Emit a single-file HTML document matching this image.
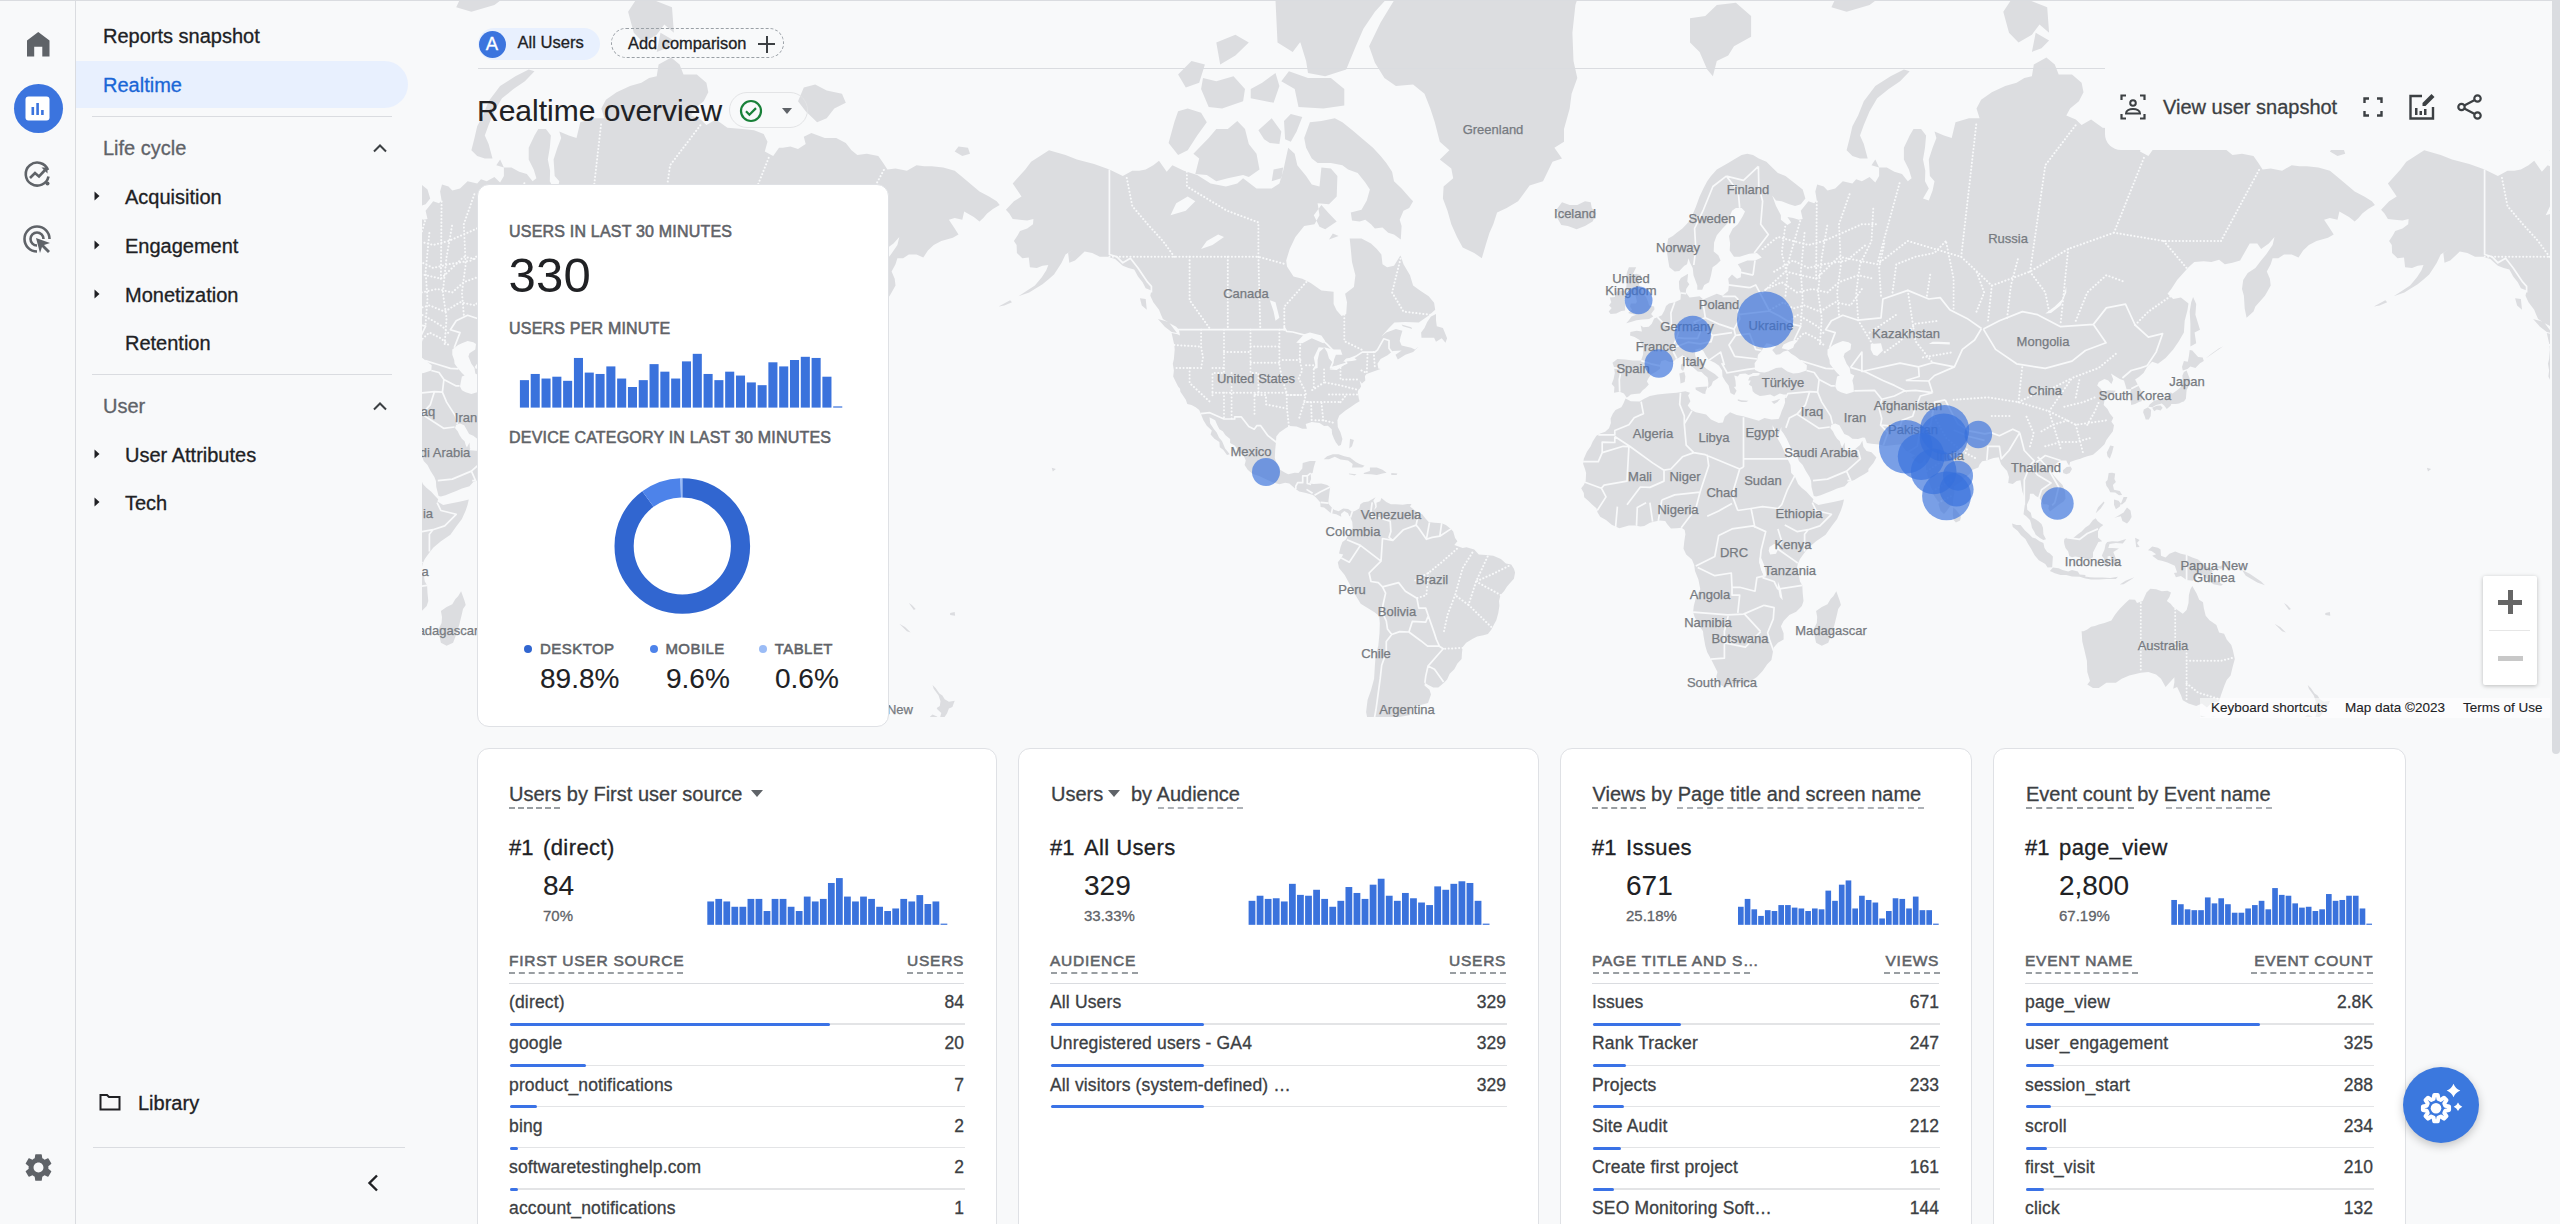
<!DOCTYPE html>
<html><head><meta charset="utf-8"><title>Realtime overview</title>
<style>
html,body{margin:0;padding:0;width:2560px;height:1224px;overflow:hidden;background:#f8f9fa;font-family:"Liberation Sans",sans-serif;}
.t{position:absolute;line-height:1;white-space:nowrap;-webkit-text-stroke:0.3px currentColor;}
.r{position:absolute;box-sizing:border-box;}
.ic{position:absolute;overflow:visible;}
.card{position:absolute;box-sizing:border-box;background:#fff;border:1px solid #dfe1e5;border-radius:12px;}
</style></head><body>
<div class="r" style="left:75.0px;top:0.0px;width:1.0px;height:1224.0px;background:#dadce0;"></div>
<svg class="ic" style="left:26.5px;top:32.3px;width:22.5px;height:24.5px" viewBox="0 0 22.5 24.5"><path fill="#5f6368" d="M11.25 0L22.5 8.6V24.5H15.3V14.8H7.2V24.5H0V8.6z"/></svg>
<div class="r" style="left:13.5px;top:83.5px;width:49px;height:49px;border-radius:50%;background:#3b74de"></div>
<svg class="ic" style="left:25px;top:96px;width:26px;height:26px" viewBox="0 0 26 26"><rect x="0.5" y="0.5" width="24" height="24" rx="3" fill="#fff"/><rect x="6.5" y="11" width="2.6" height="8" fill="#3b74de"/><rect x="11.3" y="7" width="2.6" height="12" fill="#3b74de"/><rect x="16.1" y="14" width="2.6" height="5" fill="#3b74de"/></svg>
<svg class="ic" style="left:23px;top:159px;width:30px;height:30px" viewBox="0 0 30 30"><path fill="none" stroke="#5f6368" stroke-width="2.6" d="M25.5 17.5A11.5 11.5 0 1 1 25 11"/><path fill="none" stroke="#5f6368" stroke-width="2.6" d="M7 19l5-5 4 3.5 6.5-7"/><path fill="#5f6368" d="M18.5 8.5h6v6z"/><circle cx="24.5" cy="24.5" r="2" fill="#5f6368"/></svg>
<svg class="ic" style="left:23px;top:225px;width:30px;height:30px" viewBox="0 0 30 30"><path fill="none" stroke="#5f6368" stroke-width="2.6" d="M14 26.5A12.5 12.5 0 1 1 26.5 14"/><path fill="none" stroke="#5f6368" stroke-width="2.6" d="M14 20.5A6.5 6.5 0 1 1 20.5 14"/><path fill="#5f6368" d="M13 13l14 5-6 2 6 6-2 2-6-6-2 6z"/></svg>
<svg class="ic" style="left:21.5px;top:1150.5px;width:33px;height:33px" viewBox="0 0 24 24"><path fill="#5f6368" d="M19.14 12.94c.04-.3.06-.61.06-.94 0-.32-.02-.64-.07-.94l2.03-1.58a.49.49 0 0 0 .12-.61l-1.92-3.32a.488.488 0 0 0-.59-.22l-2.39.96c-.5-.38-1.03-.7-1.62-.94l-.36-2.54a.484.484 0 0 0-.48-.41h-3.84c-.24 0-.43.17-.47.41l-.36 2.54c-.59.24-1.13.57-1.62.94l-2.39-.96c-.22-.08-.47 0-.59.22L2.74 8.87c-.12.21-.08.47.12.61l2.03 1.58c-.05.3-.09.63-.09.94s.02.64.07.94l-2.03 1.58a.49.49 0 0 0-.12.61l1.92 3.32c.12.22.37.29.59.22l2.39-.96c.5.38 1.03.7 1.62.94l.36 2.54c.05.24.24.41.48.41h3.84c.24 0 .44-.17.47-.41l.36-2.54c.59-.24 1.13-.56 1.62-.94l2.39.96c.22.08.47 0 .59-.22l1.92-3.32c.12-.22.07-.47-.12-.61l-2.01-1.58zM12 15.6c-1.98 0-3.6-1.62-3.6-3.6s1.62-3.6 3.6-3.6 3.6 1.62 3.6 3.6-1.62 3.6-3.6 3.6z"/></svg>
<div class="t" style="left:103.0px;top:25.6px;font-size:20px;color:#202124;">Reports snapshot</div>
<div class="r" style="left:76px;top:61px;width:332px;height:47px;border-radius:0 24px 24px 0;background:#e8f0fe"></div>
<div class="t" style="left:103.0px;top:75.1px;font-size:20px;color:#1a66d6;">Realtime</div>
<div class="r" style="left:92.0px;top:116.0px;width:300.0px;height:1.0px;background:#dadce0;"></div>
<div class="t" style="left:103.0px;top:138.1px;font-size:20px;color:#5f6368;">Life cycle</div>
<svg class="ic" style="left:371px;top:142px;width:18px;height:12px" viewBox="0 0 18 12"><path fill="none" stroke="#3c4043" stroke-width="2" d="M3 9.5l6-6 6 6"/></svg>
<svg class="ic" style="left:93px;top:190px;width:8px;height:12px" viewBox="0 0 8 12"><path fill="#202124" d="M1.5 1.5l5 4.5-5 4.5z"/></svg>
<div class="t" style="left:125.0px;top:187.1px;font-size:20px;color:#202124;">Acquisition</div>
<svg class="ic" style="left:93px;top:239px;width:8px;height:12px" viewBox="0 0 8 12"><path fill="#202124" d="M1.5 1.5l5 4.5-5 4.5z"/></svg>
<div class="t" style="left:125.0px;top:236.1px;font-size:20px;color:#202124;">Engagement</div>
<svg class="ic" style="left:93px;top:288px;width:8px;height:12px" viewBox="0 0 8 12"><path fill="#202124" d="M1.5 1.5l5 4.5-5 4.5z"/></svg>
<div class="t" style="left:125.0px;top:285.1px;font-size:20px;color:#202124;">Monetization</div>
<div class="t" style="left:125.0px;top:333.1px;font-size:20px;color:#202124;">Retention</div>
<div class="r" style="left:92.0px;top:374.0px;width:300.0px;height:1.0px;background:#dadce0;"></div>
<div class="t" style="left:103.0px;top:396.1px;font-size:20px;color:#5f6368;">User</div>
<svg class="ic" style="left:371px;top:400px;width:18px;height:12px" viewBox="0 0 18 12"><path fill="none" stroke="#3c4043" stroke-width="2" d="M3 9.5l6-6 6 6"/></svg>
<svg class="ic" style="left:93px;top:448px;width:8px;height:12px" viewBox="0 0 8 12"><path fill="#202124" d="M1.5 1.5l5 4.5-5 4.5z"/></svg>
<div class="t" style="left:125.0px;top:445.1px;font-size:20px;color:#202124;">User Attributes</div>
<svg class="ic" style="left:93px;top:496px;width:8px;height:12px" viewBox="0 0 8 12"><path fill="#202124" d="M1.5 1.5l5 4.5-5 4.5z"/></svg>
<div class="t" style="left:125.0px;top:493.1px;font-size:20px;color:#202124;">Tech</div>
<svg class="ic" style="left:99px;top:1093px;width:22px;height:18px" viewBox="0 0 22 18"><path fill="none" stroke="#202124" stroke-width="2" d="M1.5 2h6.5l2 2h10.5v12.5h-19z"/></svg>
<div class="t" style="left:138.0px;top:1093.1px;font-size:20px;color:#202124;">Library</div>
<div class="r" style="left:93.0px;top:1147.0px;width:312.0px;height:1.0px;background:#dadce0;"></div>
<svg class="ic" style="left:364px;top:1173px;width:18px;height:20px" viewBox="0 0 18 20"><path fill="none" stroke="#202124" stroke-width="2.4" d="M13 2.5l-7.5 7.5 7.5 7.5"/></svg>
<svg class="ic" style="left:422px;top:0px;width:2128px;height:717px;overflow:hidden" viewBox="0 0 2128 717">
<rect width="2128" height="717" fill="#f8f9fa"/>
<path fill="#dcdde0" d="M583.9 209.8L591.9 201.3L599.5 196.5L590.7 183.4L603.3 169.6L609.1 161.8L627.0 150.2L643.5 154.9L654.9 159.5L672.1 164.1L687.4 169.6L700.8 176.1L710.3 170.7L717.2 170.7L723.7 169.6L731.3 165.2L737.0 160.7L744.7 171.8L750.4 165.2L761.9 170.7L775.2 175.0L788.6 183.4L803.9 186.5L815.3 183.4L821.1 178.2L834.5 188.5L849.7 188.5L857.4 183.4L861.2 170.7L866.2 147.8L872.7 153.7L875.3 165.2L884.1 176.1L889.8 184.5L897.5 186.5L899.4 167.4L908.9 168.5L915.4 176.1L914.7 196.5L907.0 204.2L895.6 203.2L897.5 215.3L892.5 224.2L882.2 225.9L873.4 236.9L867.7 249.0L864.2 260.5L865.0 266.5L871.5 276.6L880.3 278.7L888.7 282.9L899.4 290.4L911.6 291.7L911.6 304.1L914.7 310.4L919.6 316.0L924.2 314.1L925.0 302.2L923.1 293.7L931.9 287.0L933.4 275.2L930.0 262.0L928.8 249.0L927.7 238.5L939.5 238.5L949.0 243.4L954.8 249.0L959.4 254.5L960.5 264.3L965.1 267.2L972.0 265.8L978.5 255.2L981.5 264.3L988.0 275.2L991.1 285.6L998.7 291.0L1006.7 296.3L1012.1 302.8L1013.2 309.8L1007.1 315.3L996.8 322.6L983.4 322.0L972.4 322.6L967.0 327.9L959.4 336.6L964.3 332.6L973.9 329.1L980.4 330.8L978.5 337.1L977.7 341.1L979.6 345.5L989.2 347.7L993.0 349.4L996.8 346.6L991.1 352.1L983.4 354.8L975.8 359.6L973.5 354.8L979.6 350.5L970.8 351.0L965.5 355.3L958.6 359.0L955.5 363.8L956.3 368.4L958.6 368.9L952.9 371.0L944.5 374.0L942.9 376.0L943.3 380.5L939.9 383.5L937.6 380.5L939.1 386.4L935.7 391.7L936.8 398.4L937.6 401.2L933.8 403.5L928.4 407.2L923.5 410.4L917.3 415.4L915.4 420.3L915.8 427.0L918.5 432.6L920.4 439.1L918.9 445.1L916.6 445.9L913.9 442.5L912.0 438.7L910.1 433.9L909.7 429.2L905.9 425.7L902.1 426.1L897.5 423.0L889.8 422.1L883.7 423.9L884.9 428.7L880.3 428.7L874.6 426.5L867.7 426.1L863.9 427.9L857.4 432.6L854.3 436.5L853.9 442.9L853.2 449.7L852.8 458.0L854.3 462.9L858.1 469.8L863.1 472.7L866.2 474.3L872.7 472.7L876.5 473.1L880.3 468.6L880.7 462.9L887.9 460.9L893.7 460.9L891.8 467.0L890.6 473.1L888.7 473.5L889.1 479.1L887.2 483.5L891.8 483.9L899.4 483.5L905.1 485.1L908.2 487.0L907.4 492.9L906.6 499.6L906.3 503.5L909.7 507.4L912.0 509.7L916.6 511.3L921.2 508.5L926.1 508.9L930.3 512.0L931.1 515.1L927.3 516.3L926.1 513.2L922.3 510.9L918.9 514.0L919.3 516.7L914.3 514.3L908.9 513.2L906.6 511.3L902.1 507.4L898.6 507.0L898.2 502.3L893.7 497.3L891.0 494.9L884.1 492.9L877.2 491.4L873.0 488.6L867.3 483.5L863.1 482.7L857.4 484.3L850.5 482.3L844.4 479.5L837.1 475.9L830.6 473.9L825.7 469.8L822.6 465.0L823.8 460.5L821.5 455.5L817.3 451.8L812.7 445.5L808.1 442.9L808.1 439.1L803.5 435.2L800.8 431.3L797.4 429.2L795.1 424.8L793.2 420.3L787.5 417.2L788.2 423.4L792.0 429.2L794.7 432.6L797.0 437.4L800.1 441.2L803.1 448.4L805.8 451.8L807.7 454.3L805.0 455.1L801.2 449.7L797.8 447.2L797.4 442.1L792.4 438.7L788.6 434.4L789.8 430.5L784.8 425.7L781.4 420.3L778.7 413.6L777.2 410.0L773.7 407.2L769.5 404.9L765.3 404.0L763.8 399.8L760.3 394.6L758.4 391.7L758.0 388.8L756.1 386.4L753.1 380.5L751.2 376.5L751.9 370.5L750.8 363.8L751.9 359.0L752.7 349.4L752.3 345.0L749.6 333.1L755.4 334.3L758.0 335.4L756.9 329.7L754.2 326.7L748.5 323.8L740.9 319.0L739.0 314.7L737.0 309.8L731.3 302.2L728.3 295.7L729.4 290.4L723.7 288.3L720.6 282.2L716.0 276.6L712.2 269.4L706.5 268.0L700.8 265.8L693.1 259.0L685.5 256.8L677.8 256.8L670.2 252.9L662.6 251.4L658.7 255.2L653.0 260.5L647.3 262.8L646.1 252.9L651.9 249.0L643.5 254.5L639.6 262.8L635.8 268.7L632.0 274.5L626.3 279.4L620.5 284.3L614.0 288.3L607.2 292.4L601.4 294.4L596.5 296.3L605.2 290.4L612.9 285.6L619.8 277.3L624.3 270.2L626.3 265.0L620.5 265.8L614.8 268.0L607.9 267.2L606.8 257.5L600.3 258.3L594.9 252.9L594.6 245.0L591.9 241.0L595.7 235.2L598.0 231.0L605.2 228.5L611.0 224.2L611.4 218.9L605.2 220.6L597.6 219.8L590.7 218.9L587.3 213.5L583.9 209.8ZM1959.1 209.8L1967.1 201.3L1974.7 196.5L1965.9 183.4L1978.5 169.6L1984.3 161.8L2002.2 150.2L2018.7 154.9L2030.1 159.5L2047.3 164.1L2062.6 169.6L2075.9 176.1L2085.5 170.7L2092.4 170.7L2098.9 169.6L2106.5 165.2L2112.2 160.7L2119.9 171.8L2125.6 165.2L2137.1 170.7L2150.4 175.0L2163.8 183.4L2179.1 186.5L2190.6 183.4L2196.3 178.2L2209.7 188.5L2224.9 188.5L2232.6 183.4L2236.4 170.7L2241.4 147.8L2247.9 153.7L2250.5 165.2L2259.3 176.1L2265.0 184.5L2272.7 186.5L2274.6 167.4L2284.1 168.5L2290.6 176.1L2289.9 196.5L2282.2 204.2L2270.8 203.2L2272.7 215.3L2267.7 224.2L2257.4 225.9L2248.6 236.9L2242.9 249.0L2239.4 260.5L2240.2 266.5L2246.7 276.6L2255.5 278.7L2263.9 282.9L2274.6 290.4L2286.8 291.7L2286.8 304.1L2289.9 310.4L2294.8 316.0L2299.4 314.1L2300.2 302.2L2298.3 293.7L2307.1 287.0L2308.6 275.2L2305.2 262.0L2304.0 249.0L2302.9 238.5L2314.7 238.5L2324.2 243.4L2330.0 249.0L2334.6 254.5L2335.7 264.3L2340.3 267.2L2347.2 265.8L2353.7 255.2L2356.7 264.3L2363.2 275.2L2366.3 285.6L2373.9 291.0L2381.9 296.3L2387.3 302.8L2388.4 309.8L2382.3 315.3L2372.0 322.6L2358.6 322.0L2347.6 322.6L2342.2 327.9L2334.6 336.6L2339.5 332.6L2349.1 329.1L2355.6 330.8L2353.7 337.1L2352.9 341.1L2354.8 345.5L2364.4 347.7L2368.2 349.4L2372.0 346.6L2366.3 352.1L2358.6 354.8L2351.0 359.6L2348.7 354.8L2354.8 350.5L2346.0 351.0L2340.7 355.3L2333.8 359.0L2330.7 363.8L2331.5 368.4L2333.8 368.9L2328.1 371.0L2319.7 374.0L2318.1 376.0L2318.5 380.5L2315.1 383.5L2312.8 380.5L2314.3 386.4L2310.9 391.7L2312.0 398.4L2312.8 401.2L2309.0 403.5L2303.6 407.2L2298.7 410.4L2292.5 415.4L2290.6 420.3L2291.0 427.0L2293.7 432.6L2295.6 439.1L2294.1 445.1L2291.8 445.9L2289.1 442.5L2287.2 438.7L2285.3 433.9L2284.9 429.2L2281.1 425.7L2277.3 426.1L2272.7 423.0L2265.0 422.1L2258.9 423.9L2260.1 428.7L2255.5 428.7L2249.8 426.5L2242.9 426.1L2239.1 427.9L2232.6 432.6L2229.5 436.5L2229.1 442.9L2228.4 449.7L2228.0 458.0L2229.5 462.9L2233.3 469.8L2238.3 472.7L2241.4 474.3L2247.9 472.7L2251.7 473.1L2255.5 468.6L2255.9 462.9L2263.1 460.9L2268.9 460.9L2266.9 467.0L2265.8 473.1L2263.9 473.5L2264.3 479.1L2262.4 483.5L2266.9 483.9L2274.6 483.5L2280.3 485.1L2283.4 487.0L2282.6 492.9L2281.8 499.6L2281.5 503.5L2284.9 507.4L2287.2 509.7L2291.8 511.3L2296.4 508.5L2301.3 508.9L2305.5 512.0L2306.3 515.1L2302.5 516.3L2301.3 513.2L2297.5 510.9L2294.1 514.0L2294.5 516.7L2289.5 514.3L2284.1 513.2L2281.8 511.3L2277.3 507.4L2273.8 507.0L2273.4 502.3L2268.9 497.3L2266.2 494.9L2259.3 492.9L2252.4 491.4L2248.2 488.6L2242.5 483.5L2238.3 482.7L2232.6 484.3L2225.7 482.3L2219.6 479.5L2212.3 475.9L2205.8 473.9L2200.9 469.8L2197.8 465.0L2199.0 460.5L2196.7 455.5L2192.5 451.8L2187.9 445.5L2183.3 442.9L2183.3 439.1L2178.7 435.2L2176.0 431.3L2172.6 429.2L2170.3 424.8L2168.4 420.3L2162.7 417.2L2163.4 423.4L2167.2 429.2L2169.9 432.6L2172.2 437.4L2175.3 441.2L2178.3 448.4L2181.0 451.8L2182.9 454.3L2180.2 455.1L2176.4 449.7L2173.0 447.2L2172.6 442.1L2167.6 438.7L2163.8 434.4L2165.0 430.5L2160.0 425.7L2156.6 420.3L2153.9 413.6L2152.4 410.0L2148.9 407.2L2144.7 404.9L2140.5 404.0L2139.0 399.8L2135.5 394.6L2133.6 391.7L2133.2 388.8L2131.3 386.4L2128.3 380.5L2126.4 376.5L2127.1 370.5L2126.0 363.8L2127.1 359.0L2127.9 349.4L2127.5 345.0L2124.8 333.1L2130.6 334.3L2133.2 335.4L2132.1 329.7L2129.4 326.7L2123.7 323.8L2116.1 319.0L2114.2 314.7L2112.2 309.8L2106.5 302.2L2103.5 295.7L2104.6 290.4L2098.9 288.3L2095.8 282.2L2091.2 276.6L2087.4 269.4L2081.7 268.0L2075.9 265.8L2068.3 259.0L2060.7 256.8L2053.0 256.8L2045.4 252.9L2037.8 251.4L2033.9 255.2L2028.2 260.5L2022.5 262.8L2021.3 252.9L2027.1 249.0L2018.7 254.5L2014.8 262.8L2011.0 268.7L2007.2 274.5L2001.5 279.4L1995.7 284.3L1989.2 288.3L1982.4 292.4L1976.6 294.4L1971.7 296.3L1980.5 290.4L1988.1 285.6L1995.0 277.3L1999.5 270.2L2001.5 265.0L1995.7 265.8L1990.0 268.0L1983.1 267.2L1982.0 257.5L1975.5 258.3L1970.1 252.9L1969.8 245.0L1967.1 241.0L1970.9 235.2L1973.2 231.0L1980.5 228.5L1986.2 224.2L1986.6 218.9L1980.5 220.6L1972.8 219.8L1965.9 218.9L1962.5 213.5L1959.1 209.8ZM978.8 239.4L972.0 234.4L966.2 232.7L960.5 227.6L952.9 228.5L949.0 224.2L943.3 219.8L937.6 221.5L930.0 220.6L928.8 212.6L939.5 209.8L944.8 200.4L947.9 189.5L943.3 182.4L935.7 172.9L926.1 169.6L920.4 165.2L908.9 162.9L895.6 162.9L889.8 158.4L884.1 147.8L882.2 137.9L887.9 122.3L899.4 121.0L912.8 118.3L920.4 122.3L931.9 131.6L939.5 137.9L951.0 147.8L958.6 156.1L964.3 162.9L970.1 171.8L972.0 181.3L979.6 188.5L988.4 198.4L991.1 201.3L987.2 207.9L981.5 210.7L977.7 219.8L979.6 225.9L978.8 239.4ZM773.3 173.9L784.8 175.0L794.3 181.3L805.8 178.2L821.1 175.0L826.8 177.1L837.5 169.6L834.5 153.7L826.8 144.1L823.0 129.0L815.3 121.0L805.8 129.0L794.3 129.0L786.7 137.9L777.2 147.8L771.4 153.7L777.2 158.4L773.3 173.9ZM746.6 142.9L752.3 122.3L756.1 111.3L765.7 108.5L779.1 112.7L784.8 122.3L775.2 135.4L765.7 150.2L756.1 154.9L746.6 142.9ZM2121.8 142.9L2127.5 122.3L2131.3 111.3L2140.9 108.5L2154.3 112.7L2160.0 122.3L2150.4 135.4L2140.9 150.2L2131.3 154.9L2121.8 142.9ZM847.8 142.9L857.4 144.1L859.3 131.6L849.7 118.3L836.4 130.3L842.1 139.2L847.8 142.9ZM863.1 139.2L868.8 141.7L874.6 131.6L880.3 116.9L868.8 114.1L862.0 121.0L863.1 139.2ZM779.1 89.1L786.7 107.0L800.1 108.5L821.1 101.2L823.0 89.1L811.5 76.3L794.3 81.2L781.0 77.9L779.1 89.1ZM828.7 98.3L851.6 102.7L857.4 86.0L853.5 73.0L840.2 82.8L828.7 89.1L828.7 98.3ZM922.3 105.6L901.3 108.5L876.5 107.0L872.7 89.1L859.3 81.2L866.9 71.3L886.0 77.9L908.9 77.9L922.3 89.1L922.3 105.6ZM886.0 73.0L903.2 76.3L924.2 69.6L933.8 46.3L941.4 28.7L952.9 11.8L973.9 -11.4L989.2 -37.3L958.6 -66.6L912.8 -66.6L874.6 -37.3L859.3 0.5L863.1 22.5L878.4 42.5L884.1 60.9L886.0 73.0ZM855.5 42.5L870.7 51.9L882.2 36.7L876.5 11.8L865.0 -18.8L853.5 0.5L855.5 42.5ZM798.2 64.4L813.4 55.6L826.8 42.5L813.4 34.7L794.3 42.5L798.2 64.4ZM763.8 87.5L777.2 82.8L782.9 64.4L769.5 60.9L756.1 74.6L763.8 87.5ZM2139.0 87.5L2152.4 82.8L2158.1 64.4L2144.7 60.9L2131.3 74.6L2139.0 87.5ZM897.5 226.8L903.2 229.3L914.7 221.5L907.0 213.5L899.4 205.1L891.8 215.3L897.5 226.8ZM907.0 239.4L916.6 236.1L910.8 233.6L907.0 239.4ZM849.7 181.3L859.3 178.2L861.2 167.4L851.6 169.6L849.7 181.3ZM999.5 337.7L1006.3 337.7L1012.1 337.7L1014.0 341.7L1019.7 338.3L1023.5 342.8L1025.1 338.3L1022.8 332.6L1020.9 327.9L1014.8 326.2L1014.0 320.2L1014.0 314.1L1009.0 316.6L1005.2 322.0L1002.5 327.9L999.1 332.6L999.5 337.7ZM979.6 324.4L989.2 327.3L990.3 329.1L980.8 326.2L979.6 324.4ZM735.9 319.0L746.6 322.0L755.0 333.1L749.6 332.0L742.8 326.7L735.9 319.0ZM2111.1 319.0L2121.8 322.0L2130.2 333.1L2124.8 332.0L2118.0 326.7L2111.1 319.0ZM717.9 298.3L723.7 299.0L724.8 309.8L719.8 305.4L717.9 298.3ZM2093.1 298.3L2098.9 299.0L2100.0 309.8L2095.1 305.4L2093.1 298.3ZM1059.8 258.3L1052.2 252.9L1040.7 247.4L1035.0 236.9L1029.3 224.2L1025.5 210.7L1020.9 198.4L1021.6 186.5L1031.2 178.2L1029.3 168.5L1017.8 159.5L1027.4 150.2L1017.8 141.7L1012.8 122.3L1008.3 108.5L1002.5 93.7L991.1 84.4L973.9 86.0L962.4 77.9L952.9 62.7L947.1 46.3L958.6 22.5L972.0 0.5L993.0 -31.8L1015.9 -45.7L1054.1 -60.4L1092.3 -82.8L1130.5 -72.9L1149.6 -42.8L1161.1 -18.8L1153.4 5.1L1150.4 32.8L1151.5 60.9L1155.3 77.9L1149.6 93.7L1147.7 108.5L1142.0 129.0L1142.0 141.7L1132.4 147.8L1140.0 158.4L1130.5 161.8L1121.0 181.3L1107.6 185.5L1096.1 201.3L1084.7 207.9L1075.1 212.6L1071.3 224.2L1067.5 232.7L1063.7 245.0L1059.8 258.3ZM1139.3 225.0L1145.8 225.9L1154.6 229.3L1163.0 225.9L1170.6 221.5L1174.4 213.5L1169.8 207.9L1168.7 202.3L1163.0 201.3L1155.3 205.1L1147.7 205.1L1140.0 202.3L1133.6 210.7L1140.8 215.3L1134.3 216.2L1139.3 225.0ZM930.3 512.0L933.8 510.5L937.2 508.5L938.4 504.3L941.4 502.3L946.4 501.6L950.2 499.2L953.6 497.3L951.3 500.8L952.5 503.5L953.3 506.6L952.1 510.1L954.8 507.0L954.4 502.7L958.2 501.2L959.4 498.0L964.3 501.9L968.9 504.3L973.9 504.3L980.8 504.7L985.3 503.9L989.5 503.9L988.0 506.6L993.0 510.5L995.3 512.4L1000.2 514.3L1003.3 518.2L1006.7 522.0L1012.5 522.8L1019.7 523.2L1023.9 525.1L1028.9 528.9L1031.2 531.6L1033.1 538.1L1035.4 541.2L1032.3 545.0L1040.7 548.1L1044.5 547.3L1052.2 549.6L1056.8 554.6L1063.7 554.9L1071.3 555.7L1078.9 559.1L1083.9 563.4L1089.2 564.5L1091.9 568.7L1093.1 572.6L1091.9 578.7L1089.2 581.8L1085.0 586.5L1082.0 591.2L1078.5 595.1L1077.0 601.0L1077.4 605.7L1076.3 612.9L1074.3 620.2L1072.1 624.2L1069.4 629.5L1065.9 634.1L1061.4 635.3L1055.2 636.6L1050.3 639.1L1044.2 642.8L1040.7 647.1L1040.0 652.6L1039.6 659.1L1035.4 663.5L1032.3 669.2L1027.7 673.7L1025.1 679.6L1022.0 682.8L1016.3 687.4L1011.3 687.4L1006.3 685.1L1002.9 682.8L1002.5 685.6L1007.5 689.8L1009.0 694.5L1006.0 703.1L998.7 705.1L989.2 707.0L988.0 715.0L977.7 717.0L982.7 722.1L979.6 724.7L976.9 735.2L970.1 741.7L967.8 746.1L974.6 752.9L968.2 760.3L962.8 768.0L962.0 775.9L965.1 780.2L960.5 782.1L954.8 787.8L943.3 781.5L937.6 757.4L941.4 746.1L939.5 735.2L946.0 722.1L944.1 712.0L945.6 699.7L949.0 690.2L952.1 678.7L952.9 665.2L953.6 656.5L956.3 645.8L957.5 633.2L957.8 623.0L957.1 616.1L952.9 612.5L945.2 607.7L938.7 603.8L934.9 597.4L931.1 590.8L927.3 583.4L922.7 574.9L917.0 568.0L915.8 562.2L919.3 558.0L921.2 554.6L917.0 553.4L918.5 547.3L920.4 541.9L924.2 539.3L925.7 535.4L929.2 531.6L930.7 527.8L930.3 522.0L928.4 517.4L930.3 512.0ZM963.9 782.1L972.0 796.3L964.3 799.6L952.9 794.3L941.4 783.4L956.7 784.0L963.9 782.1ZM945.2 721.1L942.6 725.2L945.2 728.9L945.2 721.1ZM-171.7 398.4L-166.4 401.2L-157.6 401.6L-153.0 398.8L-147.3 396.0L-139.7 394.6L-130.1 393.6L-120.5 392.7L-111.8 391.2L-107.2 392.7L-109.1 395.5L-106.8 401.2L-109.5 405.4L-106.0 410.0L-101.5 412.2L-91.1 414.5L-86.2 419.4L-78.5 423.0L-74.3 422.6L-72.4 416.8L-67.1 412.2L-60.6 415.0L-54.1 416.3L-48.0 418.1L-38.4 420.8L-32.7 418.1L-25.8 419.4L-18.6 419.0L-15.9 427.0L-18.6 434.4L-21.2 431.3L-24.7 425.2L-24.3 430.0L-20.8 436.5L-16.3 444.2L-13.2 450.9L-9.8 458.8L-6.7 465.0L-6.0 473.1L-2.1 477.1L0.9 483.9L4.4 487.8L9.3 491.8L13.1 496.1L16.2 499.2L15.4 501.6L21.2 505.1L28.4 503.5L36.1 501.9L41.8 500.8L46.8 499.6L45.6 504.7L43.7 510.5L39.9 519.0L34.2 526.6L28.4 534.7L18.9 541.2L11.2 547.7L6.7 553.4L2.8 559.1L0.5 564.1L-0.6 569.9L1.7 574.9L2.8 581.5L5.1 585.3L5.5 593.1L6.3 601.0L4.7 606.1L-1.0 611.7L-7.9 614.9L-13.6 621.0L-16.3 626.3L-13.6 633.2L-13.6 639.5L-19.3 642.8L-23.5 647.5L-24.7 654.3L-25.8 660.0L-30.0 664.3L-34.6 671.0L-40.3 676.9L-46.1 681.0L-51.8 683.3L-59.4 682.8L-65.2 683.7L-72.8 687.0L-77.4 684.6L-79.3 681.0L-80.8 676.4L-79.7 671.9L-83.1 665.2L-86.2 659.1L-90.0 652.2L-91.9 645.8L-93.8 635.3L-94.2 631.2L-98.4 625.0L-102.6 616.9L-104.1 612.1L-103.4 606.1L-101.1 597.1L-96.9 589.2L-98.8 579.5L-102.2 571.0L-103.0 564.9L-105.3 559.5L-111.0 554.6L-113.7 548.8L-112.9 541.2L-111.8 534.3L-112.5 530.1L-115.6 527.8L-120.5 528.2L-126.3 528.6L-130.1 524.0L-132.0 520.9L-137.7 520.5L-143.5 521.7L-147.3 522.8L-153.0 525.9L-156.8 526.6L-162.6 525.5L-168.3 525.5L-177.9 528.2L-185.5 524.7L-191.2 520.1L-197.0 516.7L-199.6 512.4L-200.8 508.2L-205.4 504.3L-208.4 501.2L-213.0 497.3L-213.4 492.9L-216.0 488.2L-213.4 485.1L-211.5 481.1L-211.1 473.1L-212.2 469.0L-214.1 463.7L-213.4 458.8L-210.3 451.8L-206.5 446.3L-204.6 441.7L-200.8 435.7L-197.0 433.5L-192.0 431.8L-188.2 428.3L-186.3 423.0L-186.6 418.6L-184.3 413.6L-181.7 410.0L-175.9 407.2L-174.0 404.0L-171.7 398.4ZM1203.5 398.4L1208.8 401.2L1217.6 401.6L1222.2 398.8L1227.9 396.0L1235.5 394.6L1245.1 393.6L1254.7 392.7L1263.4 391.2L1268.0 392.7L1266.1 395.5L1268.4 401.2L1265.7 405.4L1269.2 410.0L1273.8 412.2L1284.1 414.5L1289.0 419.4L1296.7 423.0L1300.9 422.6L1302.8 416.8L1308.1 412.2L1314.6 415.0L1321.1 416.3L1327.2 418.1L1336.8 420.8L1342.5 418.1L1349.4 419.4L1356.6 419.0L1359.3 427.0L1356.6 434.4L1354.0 431.3L1350.5 425.2L1350.9 430.0L1354.4 436.5L1358.9 444.2L1362.0 450.9L1365.4 458.8L1368.5 465.0L1369.2 473.1L1373.1 477.1L1376.1 483.9L1379.6 487.8L1384.5 491.8L1388.3 496.1L1391.4 499.2L1390.6 501.6L1396.4 505.1L1403.6 503.5L1411.3 501.9L1417.0 500.8L1422.0 499.6L1420.8 504.7L1418.9 510.5L1415.1 519.0L1409.4 526.6L1403.6 534.7L1394.1 541.2L1386.4 547.7L1381.9 553.4L1378.0 559.1L1375.7 564.1L1374.6 569.9L1376.9 574.9L1378.0 581.5L1380.3 585.3L1380.7 593.1L1381.5 601.0L1379.9 606.1L1374.2 611.7L1367.3 614.9L1361.6 621.0L1358.9 626.3L1361.6 633.2L1361.6 639.5L1355.9 642.8L1351.7 647.5L1350.5 654.3L1349.4 660.0L1345.2 664.3L1340.6 671.0L1334.9 676.9L1329.1 681.0L1323.4 683.3L1315.8 682.8L1310.0 683.7L1302.4 687.0L1297.8 684.6L1295.9 681.0L1294.4 676.4L1295.5 671.9L1292.1 665.2L1289.0 659.1L1285.2 652.2L1283.3 645.8L1281.4 635.3L1281.0 631.2L1276.8 625.0L1272.6 616.9L1271.1 612.1L1271.8 606.1L1274.1 597.1L1278.3 589.2L1276.4 579.5L1273.0 571.0L1272.2 564.9L1269.9 559.5L1264.2 554.6L1261.5 548.8L1262.3 541.2L1263.4 534.3L1262.7 530.1L1259.6 527.8L1254.7 528.2L1248.9 528.6L1245.1 524.0L1243.2 520.9L1237.5 520.5L1231.7 521.7L1227.9 522.8L1222.2 525.9L1218.4 526.6L1212.6 525.5L1206.9 525.5L1197.3 528.2L1189.7 524.7L1184.0 520.1L1178.2 516.7L1175.6 512.4L1174.4 508.2L1169.8 504.3L1166.8 501.2L1162.2 497.3L1161.8 492.9L1159.2 488.2L1161.8 485.1L1163.7 481.1L1164.1 473.1L1163.0 469.0L1161.1 463.7L1161.8 458.8L1164.9 451.8L1168.7 446.3L1170.6 441.7L1174.4 435.7L1178.2 433.5L1183.2 431.8L1187.0 428.3L1188.9 423.0L1188.6 418.6L1190.9 413.6L1193.5 410.0L1199.3 407.2L1201.2 404.0L1203.5 398.4ZM39.1 591.2L42.6 601.0L43.7 604.9L41.0 608.9L39.9 614.1L37.2 625.0L34.2 634.5L31.1 642.8L24.6 645.8L18.9 642.8L17.7 637.4L16.6 629.1L19.6 623.0L20.0 616.9L18.9 610.9L24.6 606.9L30.3 604.2L33.4 599.0L36.1 596.3L39.1 591.2ZM1414.3 591.2L1417.8 601.0L1418.9 604.9L1416.2 608.9L1415.1 614.1L1412.4 625.0L1409.4 634.5L1406.3 642.8L1399.8 645.8L1394.1 642.8L1392.9 637.4L1391.8 629.1L1394.8 623.0L1395.2 616.9L1394.1 610.9L1399.8 606.9L1405.5 604.2L1408.6 599.0L1411.3 596.3L1414.3 591.2ZM-170.6 397.4L-173.3 393.6L-177.5 391.7L-183.2 392.7L-182.8 386.9L-185.5 384.0L-183.6 379.0L-182.4 373.0L-183.2 366.9L-184.7 362.7L-179.8 359.0L-172.1 359.6L-164.5 360.6L-156.1 360.6L-154.2 354.8L-153.8 347.7L-157.6 340.0L-162.6 337.1L-167.2 335.4L-166.8 332.0L-160.7 330.8L-155.3 331.4L-156.5 325.6L-153.8 327.3L-148.4 326.7L-145.4 323.8L-143.1 318.4L-139.7 317.2L-135.4 315.3L-132.8 310.4L-131.2 306.0L-128.2 303.5L-122.5 302.2L-116.7 299.6L-116.3 293.0L-117.9 289.0L-118.3 281.5L-116.3 278.0L-109.1 273.7L-109.9 281.5L-107.9 284.3L-111.0 289.0L-111.4 292.4L-107.6 297.6L-103.4 297.0L-97.6 296.3L-93.8 299.6L-88.1 297.0L-80.4 293.7L-74.7 295.7L-69.0 291.0L-68.2 284.3L-69.0 278.7L-65.2 274.5L-60.2 278.7L-56.4 277.3L-56.0 269.4L-59.4 264.3L-49.9 260.5L-42.2 260.5L-35.4 257.5L-40.3 252.9L-48.0 253.7L-57.5 256.8L-63.2 256.8L-67.5 250.6L-67.1 243.4L-68.2 236.1L-64.4 228.5L-59.4 224.2L-54.5 216.2L-52.2 211.6L-55.6 207.9L-61.3 207.9L-65.2 210.7L-67.8 217.1L-69.0 222.4L-74.7 228.5L-80.4 235.2L-83.1 242.6L-83.5 251.4L-78.9 255.2L-76.6 260.5L-80.4 264.3L-84.6 267.2L-86.2 275.2L-88.1 282.2L-93.0 284.9L-95.0 289.7L-99.9 289.7L-99.9 285.6L-101.5 281.5L-103.7 275.2L-104.5 268.0L-107.2 262.8L-108.7 258.3L-110.2 264.3L-112.9 265.8L-117.9 270.9L-122.5 271.6L-127.8 267.2L-129.0 260.5L-130.1 252.9L-130.1 245.0L-129.0 238.5L-124.4 236.1L-120.5 232.7L-114.8 228.5L-109.1 222.4L-105.3 216.2L-101.5 207.0L-97.6 196.5L-93.8 188.5L-90.0 181.3L-86.2 176.1L-80.4 169.6L-74.7 166.3L-69.0 162.9L-63.2 159.5L-55.6 154.9L-49.9 153.7L-44.2 154.9L-38.4 158.4L-30.8 161.8L-25.0 167.4L-19.3 172.9L-11.7 176.1L-2.1 183.4L5.5 189.5L8.2 198.4L3.6 204.2L-2.1 206.1L-7.9 204.2L-15.5 201.3L-21.2 200.4L-25.0 195.5L-21.2 206.1L-16.3 215.3L-16.3 219.8L-9.8 225.0L-6.0 222.4L-9.8 217.1L-4.0 218.0L1.7 219.8L5.5 218.9L3.6 210.7L11.2 201.3L17.0 203.2L19.6 200.4L18.1 191.5L20.0 184.5L26.5 186.5L30.3 190.5L38.0 188.5L45.6 181.3L55.2 183.4L59.0 179.3L64.7 181.3L72.4 177.1L78.1 182.4L81.9 176.1L81.9 167.4L89.5 167.4L97.2 171.8L104.8 173.9L110.6 181.3L114.4 178.2L111.7 169.6L106.7 159.5L106.7 147.8L112.5 135.4L116.3 129.0L123.9 129.0L128.9 135.4L127.8 147.8L125.8 159.5L128.1 170.7L127.8 181.3L131.6 188.5L125.8 198.4L131.6 200.4L135.4 190.5L137.3 181.3L132.7 176.1L131.6 159.5L135.4 147.8L139.2 137.9L137.3 131.6L146.8 135.4L154.5 137.9L158.3 122.3L171.7 118.3L182.4 118.3L179.3 108.5L183.9 99.7L194.6 92.2L208.0 86.0L219.4 82.8L227.1 77.9L234.7 76.3L236.6 64.4L249.2 57.4L257.6 64.4L261.5 74.6L274.8 74.6L284.4 82.8L286.3 92.2L281.7 101.2L272.9 108.5L269.1 115.5L278.6 119.6L284.4 125.0L293.9 119.6L305.4 127.7L320.7 129.0L332.1 130.3L341.7 134.1L345.5 141.7L342.8 151.4L351.2 156.1L357.0 147.8L360.8 147.8L368.4 146.6L376.0 149.0L383.7 144.1L381.8 136.7L389.4 132.9L402.8 137.9L414.2 137.9L423.8 142.9L429.5 150.2L435.3 154.9L444.8 153.7L456.3 156.1L461.2 162.9L465.4 169.6L473.5 168.5L484.9 170.7L494.5 165.2L502.1 166.3L509.7 166.3L521.2 167.4L532.7 170.7L540.3 177.1L548.0 183.4L557.5 191.5L567.0 196.5L574.7 201.3L577.7 205.1L570.9 208.9L565.1 213.5L561.3 218.0L557.5 221.5L551.8 217.1L542.2 211.6L540.3 219.8L532.7 218.0L526.9 219.8L532.7 228.5L536.5 234.4L530.8 237.7L519.3 241.0L511.7 245.0L505.9 250.6L501.3 257.5L494.5 254.5L486.8 254.5L481.1 258.3L475.4 258.3L473.5 264.3L469.6 271.6L472.7 278.7L473.5 285.6L469.6 292.4L467.7 295.7L462.0 302.2L458.2 306.6L456.3 311.6L449.4 317.8L447.5 308.5L446.7 295.7L444.8 289.0L446.0 280.1L450.5 273.0L458.2 268.0L463.9 260.5L468.9 254.5L475.4 245.0L477.3 236.9L471.5 243.4L463.9 249.0L460.1 243.4L452.5 243.4L442.9 260.5L435.3 262.8L427.6 264.3L421.9 259.8L414.2 262.0L406.6 261.3L397.1 262.0L391.3 267.2L387.5 271.6L379.9 280.1L374.1 289.0L370.3 293.7L376.0 299.0L383.7 297.6L391.3 303.5L390.2 310.4L387.5 320.8L386.7 332.6L381.8 341.1L376.0 349.4L368.4 358.0L360.8 363.8L355.0 361.7L350.1 366.4L346.3 373.0L341.7 377.0L337.9 379.5L340.5 384.4L344.3 391.2L345.5 397.4L344.3 401.2L341.7 402.1L337.9 404.0L334.0 404.9L333.3 399.8L334.8 395.1L332.9 392.7L334.0 389.3L329.4 389.3L328.3 385.4L326.8 380.5L322.6 379.0L316.8 375.5L313.8 373.5L316.1 379.5L314.2 384.0L311.1 380.5L307.3 379.0L301.6 382.0L300.0 385.4L303.5 388.8L305.4 391.7L311.1 390.3L318.7 390.8L316.1 393.6L311.1 396.5L307.3 400.2L306.5 404.9L310.3 409.0L312.6 413.6L316.1 417.7L314.2 421.7L316.8 425.2L315.7 431.3L312.3 435.7L309.2 440.0L307.3 444.2L303.5 448.0L299.6 451.4L295.8 454.7L290.1 456.3L286.3 457.6L283.2 458.8L278.6 460.1L272.9 462.1L272.1 465.8L270.2 462.9L269.1 460.5L263.4 460.5L259.5 462.9L257.6 465.8L255.0 469.8L254.6 473.1L257.6 476.7L261.5 481.1L265.3 485.1L267.9 491.8L268.3 498.8L266.4 501.6L261.5 504.7L257.6 507.8L252.7 511.6L251.1 508.5L251.9 505.4L249.6 504.3L246.2 504.3L244.3 500.8L242.3 498.0L238.5 496.1L236.2 493.7L232.8 493.7L232.4 498.8L229.7 504.7L230.1 509.7L233.6 512.8L234.7 517.4L237.8 519.0L241.2 521.3L244.3 524.0L245.8 527.8L246.2 534.3L248.8 539.3L246.2 540.0L242.7 538.1L238.5 534.7L237.0 531.6L234.7 527.8L233.9 523.6L232.8 520.1L229.0 516.3L226.3 514.3L227.1 508.5L227.8 503.5L227.1 496.9L225.2 491.8L224.0 485.1L223.2 480.3L219.4 481.1L215.6 483.9L211.0 483.1L211.8 477.1L209.9 471.1L208.0 469.0L204.1 464.6L203.0 461.7L201.5 457.2L196.5 458.0L192.7 459.2L189.6 460.5L185.0 461.3L182.4 464.6L181.2 467.4L175.5 469.8L172.4 473.9L165.6 479.1L164.8 481.1L160.2 483.9L156.8 486.2L157.2 492.9L156.0 498.8L155.6 505.4L153.3 505.8L149.5 510.9L146.8 514.0L143.4 510.9L141.9 506.6L140.4 500.8L136.9 495.7L135.4 491.0L132.7 484.3L131.2 479.1L129.7 473.1L128.9 469.0L128.9 462.9L128.1 458.0L125.1 462.5L122.0 463.7L118.2 460.9L114.4 457.6L118.2 455.1L116.3 454.7L112.5 452.6L108.6 450.5L106.0 447.2L104.8 444.2L97.2 445.1L87.6 445.9L81.9 444.6L74.3 443.8L69.7 442.9L67.8 437.8L65.5 437.4L60.9 439.1L55.2 438.7L51.3 435.7L47.1 433.9L44.9 430.0L42.2 425.2L38.0 423.4L34.2 424.8L33.0 427.9L35.7 431.3L37.6 435.2L39.9 438.7L42.6 441.2L43.7 445.1L44.9 447.6L47.5 442.5L47.9 448.4L51.3 449.7L57.1 449.7L62.8 445.1L65.1 440.8L66.2 446.7L69.3 450.9L74.3 452.2L78.1 456.3L79.2 457.6L76.2 462.9L73.9 465.8L71.2 469.0L71.2 471.5L67.0 474.3L62.0 477.1L57.1 479.9L51.3 481.9L47.5 486.2L39.9 488.6L34.2 491.0L28.4 493.3L23.5 495.3L18.9 496.5L16.6 496.1L15.8 492.9L14.3 487.0L13.9 481.1L12.4 477.1L8.6 471.1L5.5 465.0L1.7 460.9L0.2 456.8L-2.1 451.4L-6.0 448.4L-7.9 444.2L-10.5 438.7L-13.6 433.5L-15.9 430.5L-15.9 427.0L-18.6 419.0L-17.0 415.4L-15.5 410.9L-13.6 406.7L-12.1 402.6L-12.4 398.4L-10.9 394.6L-13.6 394.6L-17.4 393.6L-23.1 396.5L-27.0 394.6L-32.7 395.5L-37.3 396.0L-42.2 393.6L-44.5 391.2L-45.3 386.4L-48.4 384.4L-46.4 380.5L-49.1 380.5L-47.6 377.0L-44.2 376.0L-38.4 375.5L-38.4 373.0L-42.2 373.0L-48.7 375.0L-51.8 373.5L-57.5 374.0L-59.4 376.5L-62.9 375.5L-61.7 381.0L-61.3 386.4L-63.2 386.9L-60.6 390.8L-62.9 395.1L-66.7 393.1L-67.8 388.8L-68.6 385.4L-71.7 381.5L-74.7 376.5L-75.1 370.5L-78.1 365.8L-82.4 362.7L-88.1 360.1L-91.1 355.9L-93.8 351.0L-96.9 348.3L-101.8 349.4L-102.2 354.2L-101.5 357.4L-97.2 360.1L-95.0 365.3L-91.1 368.4L-88.1 370.5L-82.4 374.0L-78.5 377.5L-80.4 379.0L-84.3 381.5L-85.8 385.4L-89.2 388.3L-88.8 383.5L-89.6 377.5L-92.7 375.0L-95.7 372.0L-99.5 371.5L-103.4 367.9L-107.2 364.8L-109.1 361.1L-110.6 357.4L-114.8 355.3L-118.6 358.0L-121.3 359.0L-124.4 362.2L-128.2 361.7L-132.0 360.1L-135.8 361.1L-137.4 365.3L-137.0 368.4L-140.8 371.5L-146.1 374.5L-149.2 379.0L-150.3 381.5L-148.4 384.4L-151.9 388.3L-154.5 390.3L-157.2 393.6L-162.6 394.1L-166.4 394.6L-169.4 396.9L-170.6 397.4ZM1204.6 397.4L1201.9 393.6L1197.7 391.7L1192.0 392.7L1192.4 386.9L1189.7 384.0L1191.6 379.0L1192.8 373.0L1192.0 366.9L1190.5 362.7L1195.4 359.0L1203.1 359.6L1210.7 360.6L1219.1 360.6L1221.0 354.8L1221.4 347.7L1217.6 340.0L1212.6 337.1L1208.0 335.4L1208.4 332.0L1214.5 330.8L1219.9 331.4L1218.7 325.6L1221.4 327.3L1226.8 326.7L1229.8 323.8L1232.1 318.4L1235.5 317.2L1239.8 315.3L1242.4 310.4L1244.0 306.0L1247.0 303.5L1252.7 302.2L1258.5 299.6L1258.9 293.0L1257.3 289.0L1256.9 281.5L1258.9 278.0L1266.1 273.7L1265.3 281.5L1267.3 284.3L1264.2 289.0L1263.8 292.4L1267.6 297.6L1271.8 297.0L1277.6 296.3L1281.4 299.6L1287.1 297.0L1294.8 293.7L1300.5 295.7L1306.2 291.0L1307.0 284.3L1306.2 278.7L1310.0 274.5L1315.0 278.7L1318.8 277.3L1319.2 269.4L1315.8 264.3L1325.3 260.5L1333.0 260.5L1339.8 257.5L1334.9 252.9L1327.2 253.7L1317.7 256.8L1312.0 256.8L1307.7 250.6L1308.1 243.4L1307.0 236.1L1310.8 228.5L1315.8 224.2L1320.7 216.2L1323.0 211.6L1319.6 207.9L1313.9 207.9L1310.0 210.7L1307.4 217.1L1306.2 222.4L1300.5 228.5L1294.8 235.2L1292.1 242.6L1291.7 251.4L1296.3 255.2L1298.6 260.5L1294.8 264.3L1290.6 267.2L1289.0 275.2L1287.1 282.2L1282.2 284.9L1280.2 289.7L1275.3 289.7L1275.3 285.6L1273.8 281.5L1271.5 275.2L1270.7 268.0L1268.0 262.8L1266.5 258.3L1265.0 264.3L1262.3 265.8L1257.3 270.9L1252.7 271.6L1247.4 267.2L1246.2 260.5L1245.1 252.9L1245.1 245.0L1246.2 238.5L1250.8 236.1L1254.7 232.7L1260.4 228.5L1266.1 222.4L1269.9 216.2L1273.8 207.0L1277.6 196.5L1281.4 188.5L1285.2 181.3L1289.0 176.1L1294.8 169.6L1300.5 166.3L1306.2 162.9L1312.0 159.5L1319.6 154.9L1325.3 153.7L1331.0 154.9L1336.8 158.4L1344.4 161.8L1350.2 167.4L1355.9 172.9L1363.5 176.1L1373.1 183.4L1380.7 189.5L1383.4 198.4L1378.8 204.2L1373.1 206.1L1367.3 204.2L1359.7 201.3L1354.0 200.4L1350.2 195.5L1354.0 206.1L1358.9 215.3L1358.9 219.8L1365.4 225.0L1369.2 222.4L1365.4 217.1L1371.2 218.0L1376.9 219.8L1380.7 218.9L1378.8 210.7L1386.4 201.3L1392.2 203.2L1394.8 200.4L1393.3 191.5L1395.2 184.5L1401.7 186.5L1405.5 190.5L1413.2 188.5L1420.8 181.3L1430.4 183.4L1434.2 179.3L1439.9 181.3L1447.6 177.1L1453.3 182.4L1457.1 176.1L1457.1 167.4L1464.8 167.4L1472.4 171.8L1480.0 173.9L1485.8 181.3L1489.6 178.2L1486.9 169.6L1481.9 159.5L1481.9 147.8L1487.7 135.4L1491.5 129.0L1499.1 129.0L1504.1 135.4L1503.0 147.8L1501.0 159.5L1503.3 170.7L1503.0 181.3L1506.8 188.5L1501.0 198.4L1506.8 200.4L1510.6 190.5L1512.5 181.3L1507.9 176.1L1506.8 159.5L1510.6 147.8L1514.4 137.9L1512.5 131.6L1522.0 135.4L1529.7 137.9L1533.5 122.3L1546.9 118.3L1557.6 118.3L1554.5 108.5L1559.1 99.7L1569.8 92.2L1583.2 86.0L1594.6 82.8L1602.3 77.9L1609.9 76.3L1611.8 64.4L1624.4 57.4L1632.8 64.4L1636.7 74.6L1650.0 74.6L1659.6 82.8L1661.5 92.2L1656.9 101.2L1648.1 108.5L1644.3 115.5L1653.8 119.6L1659.6 125.0L1669.1 119.6L1680.6 127.7L1695.9 129.0L1707.3 130.3L1716.9 134.1L1720.7 141.7L1718.0 151.4L1726.4 156.1L1732.2 147.8L1736.0 147.8L1743.6 146.6L1751.2 149.0L1758.9 144.1L1757.0 136.7L1764.6 132.9L1778.0 137.9L1789.4 137.9L1799.0 142.9L1804.7 150.2L1810.5 154.9L1820.0 153.7L1831.5 156.1L1836.4 162.9L1840.6 169.6L1848.7 168.5L1860.1 170.7L1869.7 165.2L1877.3 166.3L1884.9 166.3L1896.4 167.4L1907.9 170.7L1915.5 177.1L1923.2 183.4L1932.7 191.5L1942.2 196.5L1949.9 201.3L1952.9 205.1L1946.1 208.9L1940.3 213.5L1936.5 218.0L1932.7 221.5L1927.0 217.1L1917.4 211.6L1915.5 219.8L1907.9 218.0L1902.1 219.8L1907.9 228.5L1911.7 234.4L1906.0 237.7L1894.5 241.0L1886.9 245.0L1881.1 250.6L1876.5 257.5L1869.7 254.5L1862.0 254.5L1856.3 258.3L1850.6 258.3L1848.7 264.3L1844.8 271.6L1847.9 278.7L1848.7 285.6L1844.8 292.4L1842.9 295.7L1837.2 302.2L1833.4 306.6L1831.5 311.6L1824.6 317.8L1822.7 308.5L1821.9 295.7L1820.0 289.0L1821.2 280.1L1825.7 273.0L1833.4 268.0L1839.1 260.5L1844.1 254.5L1850.6 245.0L1852.5 236.9L1846.8 243.4L1839.1 249.0L1835.3 243.4L1827.7 243.4L1818.1 260.5L1810.5 262.8L1802.8 264.3L1797.1 259.8L1789.4 262.0L1781.8 261.3L1772.3 262.0L1766.5 267.2L1762.7 271.6L1755.1 280.1L1749.3 289.0L1745.5 293.7L1751.2 299.0L1758.9 297.6L1766.5 303.5L1765.4 310.4L1762.7 320.8L1761.9 332.6L1757.0 341.1L1751.2 349.4L1743.6 358.0L1736.0 363.8L1730.2 361.7L1725.3 366.4L1721.5 373.0L1716.9 377.0L1713.1 379.5L1715.7 384.4L1719.5 391.2L1720.7 397.4L1719.5 401.2L1716.9 402.1L1713.1 404.0L1709.2 404.9L1708.5 399.8L1710.0 395.1L1708.1 392.7L1709.2 389.3L1704.6 389.3L1703.5 385.4L1702.0 380.5L1697.8 379.0L1692.0 375.5L1689.0 373.5L1691.3 379.5L1689.4 384.0L1686.3 380.5L1682.5 379.0L1676.8 382.0L1675.2 385.4L1678.7 388.8L1680.6 391.7L1686.3 390.3L1693.9 390.8L1691.3 393.6L1686.3 396.5L1682.5 400.2L1681.7 404.9L1685.5 409.0L1687.8 413.6L1691.3 417.7L1689.4 421.7L1692.0 425.2L1690.9 431.3L1687.5 435.7L1684.4 440.0L1682.5 444.2L1678.7 448.0L1674.8 451.4L1671.0 454.7L1665.3 456.3L1661.5 457.6L1658.4 458.8L1653.8 460.1L1648.1 462.1L1647.3 465.8L1645.4 462.9L1644.3 460.5L1638.6 460.5L1634.7 462.9L1632.8 465.8L1630.2 469.8L1629.8 473.1L1632.8 476.7L1636.7 481.1L1640.5 485.1L1643.1 491.8L1643.5 498.8L1641.6 501.6L1636.7 504.7L1632.8 507.8L1627.9 511.6L1626.3 508.5L1627.1 505.4L1624.8 504.3L1621.4 504.3L1619.5 500.8L1617.5 498.0L1613.7 496.1L1611.4 493.7L1608.0 493.7L1607.6 498.8L1604.9 504.7L1605.3 509.7L1608.8 512.8L1609.9 517.4L1613.0 519.0L1616.4 521.3L1619.5 524.0L1621.0 527.8L1621.4 534.3L1624.0 539.3L1621.4 540.0L1617.9 538.1L1613.7 534.7L1612.2 531.6L1609.9 527.8L1609.1 523.6L1608.0 520.1L1604.2 516.3L1601.5 514.3L1602.3 508.5L1603.0 503.5L1602.3 496.9L1600.4 491.8L1599.2 485.1L1598.5 480.3L1594.6 481.1L1590.8 483.9L1586.2 483.1L1587.0 477.1L1585.1 471.1L1583.2 469.0L1579.3 464.6L1578.2 461.7L1576.7 457.2L1571.7 458.0L1567.9 459.2L1564.8 460.5L1560.2 461.3L1557.6 464.6L1556.4 467.4L1550.7 469.8L1547.6 473.9L1540.8 479.1L1540.0 481.1L1535.4 483.9L1532.0 486.2L1532.4 492.9L1531.2 498.8L1530.8 505.4L1528.5 505.8L1524.7 510.9L1522.0 514.0L1518.6 510.9L1517.1 506.6L1515.6 500.8L1512.1 495.7L1510.6 491.0L1507.9 484.3L1506.4 479.1L1504.9 473.1L1504.1 469.0L1504.1 462.9L1503.3 458.0L1500.3 462.5L1497.2 463.7L1493.4 460.9L1489.6 457.6L1493.4 455.1L1491.5 454.7L1487.7 452.6L1483.8 450.5L1481.2 447.2L1480.0 444.2L1472.4 445.1L1462.8 445.9L1457.1 444.6L1449.5 443.8L1444.9 442.9L1443.0 437.8L1440.7 437.4L1436.1 439.1L1430.4 438.7L1426.5 435.7L1422.3 433.9L1420.1 430.0L1417.4 425.2L1413.2 423.4L1409.4 424.8L1408.2 427.9L1410.9 431.3L1412.8 435.2L1415.1 438.7L1417.8 441.2L1418.9 445.1L1420.1 447.6L1422.7 442.5L1423.1 448.4L1426.5 449.7L1432.3 449.7L1438.0 445.1L1440.3 440.8L1441.4 446.7L1444.5 450.9L1449.5 452.2L1453.3 456.3L1454.4 457.6L1451.4 462.9L1449.1 465.8L1446.4 469.0L1446.4 471.5L1442.2 474.3L1437.2 477.1L1432.3 479.9L1426.5 481.9L1422.7 486.2L1415.1 488.6L1409.4 491.0L1403.6 493.3L1398.7 495.3L1394.1 496.5L1391.8 496.1L1391.0 492.9L1389.5 487.0L1389.1 481.1L1387.6 477.1L1383.8 471.1L1380.7 465.0L1376.9 460.9L1375.4 456.8L1373.1 451.4L1369.2 448.4L1367.3 444.2L1364.7 438.7L1361.6 433.5L1359.3 430.5L1359.3 427.0L1356.6 419.0L1358.2 415.4L1359.7 410.9L1361.6 406.7L1363.1 402.6L1362.8 398.4L1364.3 394.6L1361.6 394.6L1357.8 393.6L1352.1 396.5L1348.2 394.6L1342.5 395.5L1337.9 396.0L1333.0 393.6L1330.7 391.2L1329.9 386.4L1326.8 384.4L1328.8 380.5L1326.1 380.5L1327.6 377.0L1331.0 376.0L1336.8 375.5L1336.8 373.0L1333.0 373.0L1326.5 375.0L1323.4 373.5L1317.7 374.0L1315.8 376.5L1312.3 375.5L1313.5 381.0L1313.9 386.4L1312.0 386.9L1314.6 390.8L1312.3 395.1L1308.5 393.1L1307.4 388.8L1306.6 385.4L1303.5 381.5L1300.5 376.5L1300.1 370.5L1297.1 365.8L1292.8 362.7L1287.1 360.1L1284.1 355.9L1281.4 351.0L1278.3 348.3L1273.4 349.4L1273.0 354.2L1273.8 357.4L1278.0 360.1L1280.2 365.3L1284.1 368.4L1287.1 370.5L1292.8 374.0L1296.7 377.5L1294.8 379.0L1290.9 381.5L1289.4 385.4L1286.0 388.3L1286.4 383.5L1285.6 377.5L1282.5 375.0L1279.5 372.0L1275.7 371.5L1271.8 367.9L1268.0 364.8L1266.1 361.1L1264.6 357.4L1260.4 355.3L1256.6 358.0L1253.9 359.0L1250.8 362.2L1247.0 361.7L1243.2 360.1L1239.4 361.1L1237.8 365.3L1238.2 368.4L1234.4 371.5L1229.1 374.5L1226.0 379.0L1224.9 381.5L1226.8 384.4L1223.3 388.3L1220.7 390.3L1218.0 393.6L1212.6 394.1L1208.8 394.6L1205.8 396.9L1204.6 397.4ZM1204.2 323.2L1208.8 322.0L1214.5 320.2L1220.3 319.6L1227.1 319.0L1231.3 316.6L1229.1 314.1L1232.5 309.2L1232.1 306.6L1227.1 305.4L1226.0 301.5L1224.1 297.0L1221.0 293.7L1219.9 288.3L1217.2 285.6L1216.5 282.2L1218.4 278.7L1219.1 275.2L1214.5 273.7L1210.7 274.5L1214.2 267.2L1208.8 267.2L1206.9 267.2L1205.0 272.3L1203.8 278.7L1204.6 283.6L1204.2 289.7L1206.9 292.4L1207.7 294.4L1212.6 293.0L1213.8 297.0L1214.9 301.5L1213.8 303.5L1208.8 303.5L1208.0 306.6L1210.0 309.8L1206.1 312.9L1210.0 314.1L1214.2 314.7L1209.6 316.6L1206.9 320.2L1204.2 323.2ZM1203.1 310.4L1203.1 304.1L1202.3 299.6L1204.6 295.0L1202.3 291.0L1198.1 290.4L1194.3 291.7L1192.8 297.0L1187.8 297.6L1189.3 302.2L1187.0 305.4L1189.7 307.9L1186.7 311.6L1188.6 314.1L1194.3 313.5L1199.3 311.0L1203.1 310.4ZM1261.9 362.7L1262.7 366.9L1261.1 371.0L1258.9 368.9L1258.9 364.8L1261.9 362.7ZM1262.3 372.0L1263.4 376.5L1262.7 382.0L1258.5 383.5L1258.1 378.5L1257.3 373.5L1262.3 372.0ZM1273.4 387.4L1277.6 386.9L1285.6 386.4L1283.7 391.2L1283.3 394.1L1280.6 393.6L1273.8 389.8L1273.4 387.4ZM1315.8 399.3L1319.6 400.2L1326.5 400.7L1324.2 402.1L1319.6 402.1L1315.8 400.7L1315.8 399.3ZM1349.4 401.6L1354.0 400.2L1358.2 398.8L1355.5 402.1L1352.1 404.0L1349.4 401.6ZM156.0 507.4L158.7 509.7L161.7 513.6L163.7 517.0L162.9 520.5L158.7 522.4L156.4 520.1L155.6 514.3L156.0 507.4ZM1531.2 507.4L1533.9 509.7L1536.9 513.6L1538.9 517.0L1538.1 520.5L1533.9 522.4L1531.6 520.1L1530.8 514.3L1531.2 507.4ZM265.7 470.2L269.5 467.0L273.3 466.6L274.8 469.0L272.5 473.1L269.1 474.3L266.0 473.1L265.7 470.2ZM1640.9 470.2L1644.7 467.0L1648.5 466.6L1650.0 469.0L1647.7 473.1L1644.3 474.3L1641.2 473.1L1640.9 470.2ZM313.0 445.5L316.5 446.3L314.9 452.6L312.6 458.8L310.3 456.3L309.6 452.6L311.9 448.0L313.0 445.5ZM1688.2 445.5L1691.7 446.3L1690.1 452.6L1687.8 458.8L1685.5 456.3L1684.8 452.6L1687.1 448.0L1688.2 445.5ZM385.6 370.5L390.2 368.9L393.2 366.4L398.2 367.9L402.8 363.2L406.6 361.1L405.5 357.4L400.9 356.9L395.1 350.5L392.5 349.9L391.7 355.9L390.6 361.7L386.7 361.1L384.8 366.9L385.6 370.5ZM1760.8 370.5L1765.4 368.9L1768.4 366.4L1773.4 367.9L1778.0 363.2L1781.8 361.1L1780.7 357.4L1776.1 356.9L1770.3 350.5L1767.7 349.9L1766.9 355.9L1765.8 361.7L1761.9 361.1L1760.0 366.9L1760.8 370.5ZM389.4 370.5L391.3 375.5L393.2 380.5L391.3 386.4L389.4 390.3L389.0 395.1L388.7 398.8L386.7 401.6L384.8 402.1L381.8 403.5L378.7 404.0L374.1 404.0L373.4 405.8L369.6 409.0L366.9 405.4L364.6 403.5L358.9 404.9L355.0 407.2L351.2 406.7L352.4 404.4L357.0 400.7L362.7 399.3L368.4 399.3L370.3 397.4L373.4 392.2L375.3 393.6L379.9 390.3L383.7 386.9L385.6 382.0L385.2 375.5L386.7 372.0L389.4 370.5ZM1764.6 370.5L1766.5 375.5L1768.4 380.5L1766.5 386.4L1764.6 390.3L1764.2 395.1L1763.9 398.8L1761.9 401.6L1760.0 402.1L1757.0 403.5L1753.9 404.0L1749.3 404.0L1748.6 405.8L1744.8 409.0L1742.1 405.4L1739.8 403.5L1734.1 404.9L1730.2 407.2L1726.4 406.7L1727.6 404.4L1732.2 400.7L1737.9 399.3L1743.6 399.3L1745.5 397.4L1748.6 392.2L1750.5 393.6L1755.1 390.3L1758.9 386.9L1760.8 382.0L1760.4 375.5L1761.9 372.0L1764.6 370.5ZM346.6 409.5L350.8 407.2L353.9 410.0L353.5 415.9L351.6 419.4L348.5 419.4L347.4 415.9L345.9 412.2L346.6 409.5ZM1721.8 409.5L1726.0 407.2L1729.1 410.0L1728.7 415.9L1726.8 419.4L1723.7 419.4L1722.6 415.9L1721.1 412.2L1721.8 409.5ZM357.0 411.3L359.6 409.5L363.4 410.4L365.4 407.7L363.4 405.4L359.6 405.8L355.0 407.7L357.0 411.3ZM1732.2 411.3L1734.8 409.5L1738.6 410.4L1740.6 407.7L1738.6 405.4L1734.8 405.8L1730.2 407.7L1732.2 411.3ZM393.2 346.6L399.0 343.3L397.4 332.6L402.8 329.7L398.2 314.7L399.0 304.1L395.9 297.0L394.0 302.2L392.5 311.6L393.2 323.8L393.2 335.4L393.2 346.6ZM1768.4 346.6L1774.2 343.3L1772.6 332.6L1778.0 329.7L1773.4 314.7L1774.2 304.1L1771.1 297.0L1769.2 302.2L1767.7 311.6L1768.4 323.8L1768.4 335.4L1768.4 346.6ZM408.5 358.5L419.2 351.0L425.7 346.6L421.9 348.3L414.2 353.7L408.5 358.5ZM1783.7 358.5L1794.4 351.0L1800.9 346.6L1797.1 348.3L1789.4 353.7L1783.7 358.5ZM311.5 473.1L314.9 472.7L318.0 473.5L317.2 479.1L318.7 481.9L315.7 485.1L316.8 489.8L322.6 491.0L324.9 494.9L321.8 495.3L318.0 492.6L313.0 492.2L311.5 489.0L309.2 485.8L308.4 481.9L310.3 479.9L311.5 473.1ZM1686.7 473.1L1690.1 472.7L1693.2 473.5L1692.4 479.1L1693.9 481.9L1690.9 485.1L1692.0 489.8L1697.8 491.0L1700.1 494.9L1697.0 495.3L1693.2 492.6L1688.2 492.2L1686.7 489.0L1684.4 485.8L1683.6 481.9L1685.5 479.9L1686.7 473.1ZM316.8 518.2L322.6 514.7L326.4 512.4L329.8 507.4L333.3 510.5L334.4 517.0L332.1 520.9L329.8 523.6L325.2 520.9L323.7 516.3L319.9 517.0L316.8 518.2ZM1692.0 518.2L1697.8 514.7L1701.6 512.4L1705.0 507.4L1708.5 510.5L1709.6 517.0L1707.3 520.9L1705.0 523.6L1700.4 520.9L1698.9 516.3L1695.1 517.0L1692.0 518.2ZM316.8 499.6L321.4 500.8L324.5 504.7L328.3 501.6L330.2 496.9L326.4 496.9L322.6 506.6L318.7 509.3L316.8 504.7L316.8 499.6ZM1692.0 499.6L1696.6 500.8L1699.7 504.7L1703.5 501.6L1705.4 496.9L1701.6 496.9L1697.8 506.6L1693.9 509.3L1692.0 504.7L1692.0 499.6ZM298.5 513.2L303.5 508.5L307.3 502.7L306.5 501.6L300.8 507.4L298.5 513.2ZM1673.7 513.2L1678.7 508.5L1682.5 502.7L1681.7 501.6L1676.0 507.4L1673.7 513.2ZM267.2 538.9L269.9 537.4L274.8 538.9L280.5 534.3L284.4 531.6L288.2 527.4L292.0 525.1L295.8 520.1L298.5 518.2L300.4 520.9L303.5 523.6L306.1 525.1L302.7 527.8L300.8 531.6L300.8 537.4L305.0 541.2L301.2 541.9L299.6 545.0L297.7 548.8L295.8 552.6L295.8 557.2L292.0 559.5L288.2 558.8L282.5 557.2L277.9 556.5L274.8 557.2L272.1 556.1L271.0 551.5L268.3 548.1L267.2 544.2L266.8 541.6L267.2 538.9ZM1642.4 538.9L1645.1 537.4L1650.0 538.9L1655.8 534.3L1659.6 531.6L1663.4 527.4L1667.2 525.1L1671.0 520.1L1673.7 518.2L1675.6 520.9L1678.7 523.6L1681.3 525.1L1677.9 527.8L1676.0 531.6L1676.0 537.4L1680.2 541.2L1676.4 541.9L1674.8 545.0L1672.9 548.8L1671.0 552.6L1671.0 557.2L1667.2 559.5L1663.4 558.8L1657.7 557.2L1653.1 556.5L1650.0 557.2L1647.3 556.1L1646.2 551.5L1643.5 548.1L1642.4 544.2L1642.0 541.6L1642.4 538.9ZM214.8 523.6L219.4 525.1L223.2 525.1L227.8 530.5L232.0 534.3L235.1 537.4L238.5 538.5L242.3 541.2L246.2 543.1L247.3 548.1L250.0 551.9L252.7 553.4L255.7 556.5L255.3 562.2L255.0 567.2L250.4 567.6L248.1 564.1L241.6 560.3L237.4 555.3L233.9 548.8L230.9 543.9L228.2 538.9L223.6 535.1L220.6 530.9L215.6 527.0L214.8 523.6ZM1590.0 523.6L1594.6 525.1L1598.5 525.1L1603.0 530.5L1607.2 534.3L1610.3 537.4L1613.7 538.5L1617.5 541.2L1621.4 543.1L1622.5 548.1L1625.2 551.9L1627.9 553.4L1630.9 556.5L1630.5 562.2L1630.2 567.2L1625.6 567.6L1623.3 564.1L1616.8 560.3L1612.6 555.3L1609.1 548.8L1606.1 543.9L1603.4 538.9L1598.8 535.1L1595.8 530.9L1590.8 527.0L1590.0 523.6ZM252.7 571.0L255.7 567.6L261.5 568.3L265.3 569.9L271.0 571.4L274.8 569.9L280.5 571.4L282.5 574.5L288.2 574.9L288.2 578.4L282.5 576.8L274.8 576.4L269.1 574.9L263.4 574.9L257.6 573.3L253.8 571.4L252.7 571.0ZM1627.9 571.0L1630.9 567.6L1636.7 568.3L1640.5 569.9L1646.2 571.4L1650.0 569.9L1655.8 571.4L1657.7 574.5L1663.4 574.9L1663.4 578.4L1657.7 576.8L1650.0 576.4L1644.3 574.9L1638.6 574.9L1632.8 573.3L1629.0 571.4L1627.9 571.0ZM288.2 576.4L292.8 577.2L297.7 577.6L305.4 577.6L313.0 578.0L320.7 576.8L318.7 579.1L309.2 579.1L301.6 579.5L293.9 579.5L288.2 578.4L288.2 576.4ZM1663.4 576.4L1668.0 577.2L1672.9 577.6L1680.6 577.6L1688.2 578.0L1695.9 576.8L1693.9 579.1L1684.4 579.1L1676.8 579.5L1669.1 579.5L1663.4 578.4L1663.4 576.4ZM322.6 584.6L328.3 580.7L337.1 577.2L334.0 579.5L326.4 584.2L322.6 584.6ZM1697.8 584.6L1703.5 580.7L1712.3 577.2L1709.2 579.5L1701.6 584.2L1697.8 584.6ZM307.3 566.0L306.9 558.4L304.6 555.7L307.3 549.6L308.4 544.2L310.0 541.9L314.9 541.2L320.7 541.6L326.4 539.7L329.1 538.9L325.6 543.5L318.7 543.1L312.3 543.9L311.1 548.1L315.3 548.1L321.8 548.4L316.1 551.9L318.7 558.4L321.4 562.6L318.7 566.0L314.9 562.2L313.0 555.7L310.3 556.5L311.1 566.4L307.3 566.0ZM1682.5 566.0L1682.1 558.4L1679.8 555.7L1682.5 549.6L1683.6 544.2L1685.2 541.9L1690.1 541.2L1695.9 541.6L1701.6 539.7L1704.3 538.9L1700.8 543.5L1693.9 543.1L1687.5 543.9L1686.3 548.1L1690.5 548.1L1697.0 548.4L1691.3 551.9L1693.9 558.4L1696.6 562.6L1693.9 566.0L1690.1 562.2L1688.2 555.7L1685.5 556.5L1686.3 566.4L1682.5 566.0ZM337.9 537.7L342.4 540.0L339.8 543.1L342.4 546.9L339.0 547.3L337.9 537.7ZM1713.1 537.7L1717.6 540.0L1715.0 543.1L1717.6 546.9L1714.2 547.3L1713.1 537.7ZM350.8 550.3L355.0 546.5L360.8 547.7L363.4 549.6L363.8 555.7L368.4 557.6L372.2 553.8L378.0 551.5L383.7 553.8L389.4 554.9L395.1 557.6L400.9 559.5L404.7 563.0L407.8 566.0L414.2 568.7L415.4 571.8L413.1 573.7L418.1 579.5L421.9 582.6L425.7 584.6L423.8 585.7L416.2 584.2L410.4 579.5L405.8 575.3L400.9 574.5L398.2 577.6L395.9 580.7L389.4 579.9L383.7 576.0L378.7 577.2L376.8 573.0L379.9 572.6L377.6 565.7L370.3 562.6L364.6 560.7L360.8 559.9L358.1 558.0L355.0 555.7L358.9 554.2L354.3 551.1L350.8 550.3ZM1726.0 550.3L1730.2 546.5L1736.0 547.7L1738.6 549.6L1739.0 555.7L1743.6 557.6L1747.4 553.8L1753.2 551.5L1758.9 553.8L1764.6 554.9L1770.3 557.6L1776.1 559.5L1779.9 563.0L1783.0 566.0L1789.4 568.7L1790.6 571.8L1788.3 573.7L1793.3 579.5L1797.1 582.6L1800.9 584.6L1799.0 585.7L1791.4 584.2L1785.6 579.5L1781.0 575.3L1776.1 574.5L1773.4 577.6L1771.1 580.7L1764.6 579.9L1758.9 576.0L1753.9 577.2L1752.0 573.0L1755.1 572.6L1752.8 565.7L1745.5 562.6L1739.8 560.7L1736.0 559.9L1733.3 558.0L1730.2 555.7L1734.1 554.2L1729.5 551.1L1726.0 550.3ZM417.3 566.4L423.8 566.0L429.5 561.1L432.6 561.4L429.5 566.0L423.8 569.1L417.3 566.4ZM1792.5 566.4L1799.0 566.0L1804.7 561.1L1807.8 561.4L1804.7 566.0L1799.0 569.1L1792.5 566.4ZM284.4 631.2L285.1 641.6L287.0 649.2L289.7 660.8L290.1 671.9L292.8 681.0L290.1 684.6L295.8 687.9L301.6 687.9L309.2 682.8L318.7 682.8L324.5 678.7L332.1 675.5L343.6 672.8L351.2 671.9L358.9 674.6L363.8 678.7L368.4 687.0L372.2 682.8L377.2 677.3L377.2 682.3L376.0 688.8L379.9 687.0L383.7 694.9L385.6 700.2L391.3 703.6L399.0 706.0L404.7 703.6L409.7 707.5L414.2 703.1L421.9 701.2L423.8 694.9L427.2 685.6L429.5 680.0L433.4 675.5L435.3 667.4L437.6 659.1L435.6 650.0L434.1 644.9L429.5 639.5L426.9 633.7L421.9 632.4L419.2 625.0L412.3 620.2L408.5 615.7L406.6 608.1L405.8 602.2L402.0 599.8L399.4 593.5L395.1 586.1L393.2 589.2L391.7 595.1L391.3 603.0L389.4 610.1L385.6 613.7L381.8 610.9L376.0 606.9L373.4 603.8L369.6 601.0L372.2 597.1L373.8 592.4L370.3 590.8L364.6 591.2L358.9 589.2L353.1 588.8L349.3 592.4L345.5 601.0L339.8 603.0L337.9 599.8L332.1 599.4L328.3 603.0L323.3 608.1L320.7 610.9L317.6 614.9L314.2 620.6L307.3 623.0L301.6 624.6L297.7 625.9L293.9 626.7L290.1 629.5L286.3 631.2L284.4 631.2ZM1659.6 631.2L1660.3 641.6L1662.2 649.2L1664.9 660.8L1665.3 671.9L1668.0 681.0L1665.3 684.6L1671.0 687.9L1676.8 687.9L1684.4 682.8L1693.9 682.8L1699.7 678.7L1707.3 675.5L1718.8 672.8L1726.4 671.9L1734.1 674.6L1739.0 678.7L1743.6 687.0L1747.4 682.8L1752.4 677.3L1752.4 682.3L1751.2 688.8L1755.1 687.0L1758.9 694.9L1760.8 700.2L1766.5 703.6L1774.2 706.0L1779.9 703.6L1784.9 707.5L1789.4 703.1L1797.1 701.2L1799.0 694.9L1802.4 685.6L1804.7 680.0L1808.6 675.5L1810.5 667.4L1812.8 659.1L1810.8 650.0L1809.3 644.9L1804.7 639.5L1802.1 633.7L1797.1 632.4L1794.4 625.0L1787.5 620.2L1783.7 615.7L1781.8 608.1L1781.0 602.2L1777.2 599.8L1774.6 593.5L1770.3 586.1L1768.4 589.2L1766.9 595.1L1766.5 603.0L1764.6 610.1L1760.8 613.7L1757.0 610.9L1751.2 606.9L1748.6 603.8L1744.8 601.0L1747.4 597.1L1749.0 592.4L1745.5 590.8L1739.8 591.2L1734.1 589.2L1728.3 588.8L1724.5 592.4L1720.7 601.0L1715.0 603.0L1713.1 599.8L1707.3 599.4L1703.5 603.0L1698.5 608.1L1695.9 610.9L1692.8 614.9L1689.4 620.6L1682.5 623.0L1676.8 624.6L1672.9 625.9L1669.1 626.7L1665.3 629.5L1661.5 631.2L1659.6 631.2ZM403.2 715.5L410.4 717.5L417.3 716.5L416.2 727.3L411.6 730.4L405.5 723.6L403.2 715.5ZM1778.4 715.5L1785.6 717.5L1792.5 716.5L1791.4 727.3L1786.8 730.4L1780.7 723.6L1778.4 715.5ZM510.5 685.1L513.6 687.9L517.4 693.5L520.4 695.4L522.7 699.2L526.9 701.7L532.7 700.7L530.4 707.0L526.9 708.5L525.0 713.5L520.4 720.1L517.8 718.5L519.3 713.0L515.5 709.5L514.7 708.0L517.8 706.0L518.5 701.2L516.6 695.4L511.7 688.8L510.5 685.1ZM1885.7 685.1L1888.8 687.9L1892.6 693.5L1895.6 695.4L1897.9 699.2L1902.1 701.7L1907.9 700.7L1905.6 707.0L1902.1 708.5L1900.2 713.5L1895.6 720.1L1893.0 718.5L1894.5 713.0L1890.7 709.5L1889.9 708.0L1893.0 706.0L1893.7 701.2L1891.8 695.4L1886.9 688.8L1885.7 685.1ZM510.5 714.5L515.1 716.5L516.6 720.6L512.8 727.3L510.5 731.5L504.8 735.2L502.9 742.8L497.5 746.7L490.6 744.5L486.8 740.6L490.6 735.2L494.5 732.0L502.1 727.3L505.9 721.1L508.2 716.5L510.5 714.5ZM1885.7 714.5L1890.3 716.5L1891.8 720.6L1888.0 727.3L1885.7 731.5L1880.0 735.2L1878.1 742.8L1872.7 746.7L1865.8 744.5L1862.0 740.6L1865.8 735.2L1869.7 732.0L1877.3 727.3L1881.1 721.1L1883.4 716.5L1885.7 714.5ZM901.7 459.2L905.1 456.3L910.8 454.3L916.6 454.3L922.3 456.3L928.0 457.6L933.8 462.1L937.6 464.1L942.6 465.8L940.3 467.4L930.0 467.4L930.7 464.1L926.1 460.5L918.5 459.6L912.8 456.8L907.0 459.2L901.7 459.2ZM941.8 473.1L947.9 471.1L947.9 467.4L954.8 467.4L960.5 469.8L964.7 472.7L960.5 473.5L954.8 475.1L949.0 474.3L941.8 473.9L941.8 473.1ZM926.9 473.5L934.5 474.3L932.6 475.5L926.9 474.3L926.9 473.5ZM969.3 473.1L975.4 473.5L974.6 475.1L969.3 475.1L969.3 473.1ZM928.0 438.7L931.9 440.0L930.0 446.3L927.3 448.4L928.0 438.7ZM1268.0 42.5L1277.6 51.9L1285.2 69.6L1290.9 76.3L1294.8 60.9L1306.2 55.6L1312.0 46.3L1329.1 36.7L1329.1 16.1L1313.9 2.8L1294.8 5.1L1283.3 16.1L1268.0 18.3L1268.0 42.5ZM49.4 150.2L55.2 156.1L62.8 158.4L70.5 158.4L66.6 144.1L62.8 135.4L66.6 125.0L72.4 111.3L80.0 98.3L91.5 89.1L102.9 81.2L112.5 71.3L106.7 69.6L93.4 76.3L78.1 86.0L66.6 101.2L60.9 115.5L55.2 126.3L52.5 137.9L49.4 150.2ZM1424.6 150.2L1430.4 156.1L1438.0 158.4L1445.7 158.4L1441.8 144.1L1438.0 135.4L1441.8 125.0L1447.6 111.3L1455.2 98.3L1466.7 89.1L1478.1 81.2L1487.7 71.3L1481.9 69.6L1468.6 76.3L1453.3 86.0L1441.8 101.2L1436.1 115.5L1430.4 126.3L1427.7 137.9L1424.6 150.2ZM74.3 165.2L81.9 167.4L78.1 159.5L74.3 165.2ZM1449.5 165.2L1457.1 167.4L1453.3 159.5L1449.5 165.2ZM211.8 32.8L221.3 42.5L234.7 34.7L242.3 24.6L251.9 32.8L250.0 7.3L232.8 0.5L221.3 -11.4L206.1 11.8L211.8 32.8ZM1587.0 32.8L1596.5 42.5L1609.9 34.7L1617.5 24.6L1627.1 32.8L1625.2 7.3L1608.0 0.5L1596.5 -11.4L1581.3 11.8L1587.0 32.8ZM234.7 51.9L244.3 48.2L251.9 40.6L238.5 32.8L234.7 51.9ZM1609.9 51.9L1619.5 48.2L1627.1 40.6L1613.7 32.8L1609.9 51.9ZM376.0 101.2L383.7 111.3L395.1 122.3L404.7 118.3L412.3 108.5L423.8 102.7L420.0 93.7L404.7 90.6L393.2 84.4L381.8 87.5L376.0 101.2ZM1751.2 101.2L1758.9 111.3L1770.3 122.3L1779.9 118.3L1787.5 108.5L1799.0 102.7L1795.2 93.7L1779.9 90.6L1768.4 84.4L1757.0 87.5L1751.2 101.2ZM532.7 151.4L540.3 156.1L548.0 153.7L546.0 147.8L536.5 146.6L532.7 151.4ZM1907.9 151.4L1915.5 156.1L1923.2 153.7L1921.2 147.8L1911.7 146.6L1907.9 151.4ZM34.2 7.3L49.4 11.8L72.4 5.1L87.6 -6.6L68.5 -11.4L41.8 -9.0L34.2 7.3ZM1409.4 7.3L1424.6 11.8L1447.6 5.1L1462.8 -6.6L1443.7 -11.4L1417.0 -9.0L1409.4 7.3ZM590.0 302.2L582.3 305.4L576.6 306.6L588.1 300.2L590.0 302.2ZM1965.2 302.2L1957.5 305.4L1951.8 306.6L1963.3 300.2L1965.2 302.2ZM629.7 467.8L633.9 469.0L630.8 471.5L629.7 467.8ZM2004.9 467.8L2009.1 469.0L2006.0 471.5L2004.9 467.8ZM477.3 623.8L483.0 627.1L488.7 632.4L484.9 631.2L477.3 623.8ZM1852.5 623.8L1858.2 627.1L1863.9 632.4L1860.1 631.2L1852.5 623.8ZM486.8 603.0L489.9 604.9L493.7 608.9L491.8 610.1L486.8 603.0ZM1862.0 603.0L1865.1 604.9L1868.9 608.9L1867.0 610.1L1862.0 603.0ZM444.8 569.9L452.5 573.7L463.9 581.5L467.7 585.3L460.1 582.6L448.6 575.7L444.8 569.9ZM1820.0 569.9L1827.7 573.7L1839.1 581.5L1842.9 585.3L1835.3 582.6L1823.8 575.7L1820.0 569.9ZM528.1 612.9L532.7 612.1L533.1 615.7L528.1 614.9L528.1 612.9ZM1903.3 612.9L1907.9 612.1L1908.3 615.7L1903.3 614.9L1903.3 612.9Z"/>
<path fill="#f8f9fa" d="M-42.2 369.9L-38.0 372.0L-32.7 372.5L-28.9 371.5L-21.2 367.9L-15.5 367.4L-9.8 371.5L-4.0 373.5L1.7 373.0L9.3 370.5L9.7 365.3L3.6 360.6L-2.1 355.9L-6.0 353.7L-9.4 350.5L-13.6 351.6L-17.4 354.2L-21.2 354.8L-25.0 349.9L-21.2 346.6L-27.0 343.9L-30.8 343.3L-33.8 347.7L-35.7 351.0L-39.2 354.8L-39.9 359.6L-42.6 363.2L-42.2 369.9ZM1333.0 369.9L1337.2 372.0L1342.5 372.5L1346.3 371.5L1354.0 367.9L1359.7 367.4L1365.4 371.5L1371.2 373.5L1376.9 373.0L1384.5 370.5L1384.9 365.3L1378.8 360.6L1373.1 355.9L1369.2 353.7L1365.8 350.5L1361.6 351.6L1357.8 354.2L1354.0 354.8L1350.2 349.9L1354.0 346.6L1348.2 343.9L1344.4 343.3L1341.4 347.7L1339.5 351.0L1336.0 354.8L1335.3 359.6L1332.6 363.2L1333.0 369.9ZM-15.5 348.3L-13.6 344.4L-7.9 341.7L-2.1 340.0L0.9 340.5L-2.9 344.4L-4.0 347.7L-8.6 349.9L-15.5 348.3ZM1359.7 348.3L1361.6 344.4L1367.3 341.7L1373.1 340.0L1376.1 340.5L1372.3 344.4L1371.2 347.7L1366.6 349.9L1359.7 348.3ZM1328.0 375.5L1333.0 376.0L1338.7 374.0L1336.8 373.0L1331.0 373.0L1328.0 375.5ZM30.3 354.8L30.3 349.4L36.1 345.0L39.9 343.3L45.6 341.1L51.3 342.2L54.0 343.9L53.3 349.4L47.5 353.2L46.4 356.4L49.4 363.8L52.5 367.9L53.3 373.5L57.1 375.5L55.2 380.5L56.3 385.4L56.7 391.7L49.4 394.1L43.7 392.2L39.9 390.3L38.0 386.4L39.1 380.5L39.9 376.5L42.6 375.5L39.9 373.0L36.5 368.9L32.6 363.8L32.2 360.1L30.3 354.8ZM1405.5 354.8L1405.5 349.4L1411.3 345.0L1415.1 343.3L1420.8 341.1L1426.5 342.2L1429.2 343.9L1428.5 349.4L1422.7 353.2L1421.6 356.4L1424.6 363.8L1427.7 367.9L1428.5 373.5L1432.3 375.5L1430.4 380.5L1431.5 385.4L1431.9 391.7L1424.6 394.1L1418.9 392.2L1415.1 390.3L1413.2 386.4L1414.3 380.5L1415.1 376.5L1417.8 375.5L1415.1 373.0L1411.7 368.9L1407.8 363.8L1407.5 360.1L1405.5 354.8ZM73.5 343.9L83.8 343.3L85.7 350.5L80.0 355.9L76.2 354.8L73.5 349.4L73.5 343.9ZM1448.7 343.9L1459.0 343.3L1460.9 350.5L1455.2 355.9L1451.4 354.8L1448.7 349.4L1448.7 343.9ZM248.1 313.5L253.8 312.9L263.4 305.4L269.1 292.4L269.1 287.0L265.3 299.0L257.6 306.6L248.1 313.5ZM1623.3 313.5L1629.0 312.9L1638.6 305.4L1644.3 292.4L1644.3 287.0L1640.5 299.0L1632.8 306.6L1623.3 313.5ZM131.6 343.9L141.1 343.9L152.6 344.4L152.6 342.2L141.1 341.7L135.4 341.7L131.6 343.9ZM1506.8 343.9L1516.3 343.9L1527.8 344.4L1527.8 342.2L1516.3 341.7L1510.6 341.7L1506.8 343.9ZM1347.5 546.9L1352.1 543.9L1355.9 544.6L1356.3 548.8L1354.0 553.8L1348.2 554.6L1346.7 550.7L1347.5 546.9ZM1337.5 557.6L1339.5 558.4L1342.5 566.0L1344.4 574.9L1342.9 577.6L1339.1 569.9L1337.5 562.2L1337.5 557.6ZM1355.9 581.5L1358.9 589.2L1360.8 600.2L1357.8 597.1L1355.9 587.3L1355.9 581.5ZM874.2 342.8L880.3 343.3L889.8 338.3L901.3 343.3L903.2 341.1L899.4 335.4L887.9 332.6L882.2 334.3L874.2 342.8ZM890.6 369.4L893.3 365.3L891.8 357.4L896.7 347.2L902.1 347.7L897.5 352.1L895.6 360.1L895.6 367.9L890.6 369.4ZM902.1 347.2L910.8 349.4L918.5 349.4L920.4 354.8L913.9 354.8L910.8 362.7L907.0 358.5L905.1 352.1L902.1 347.2ZM907.4 369.4L914.7 369.9L924.2 363.8L918.5 364.8L910.8 367.9L907.4 369.4ZM921.2 361.7L930.0 361.1L934.9 360.1L931.9 357.4L924.2 358.5L921.2 361.7ZM853.5 320.8L857.4 317.8L853.5 302.2L847.8 300.2L851.6 311.6L853.5 320.8ZM748.5 215.3L763.8 210.7L773.3 201.3L765.7 196.5L754.2 203.2L748.5 215.3ZM2123.7 215.3L2139.0 210.7L2148.5 201.3L2140.9 196.5L2129.4 203.2L2123.7 215.3ZM779.1 249.0L790.5 245.0L802.0 236.9L796.2 234.4L784.8 241.0L779.1 249.0Z"/>
<path fill="none" stroke="#f8f9fa" stroke-width="1.7" stroke-linejoin="round" d="M755.0 329.7L862.3 329.7L862.3 327.3L864.6 331.4L870.7 332.0L883.7 335.4L887.9 336.0L902.1 341.7L904.7 343.9L911.2 350.5L910.8 362.7L908.6 367.9L914.7 366.4L924.6 363.2L923.5 360.6L933.8 356.4L940.3 352.1L952.9 352.1L955.5 349.9L961.7 338.8L967.0 340.5L967.0 348.3L970.1 352.6M2130.2 329.7L2237.5 329.7L2237.5 327.3L2239.8 331.4L2245.9 332.0L2258.9 335.4L2263.1 336.0L2277.3 341.7L2279.9 343.9L2286.4 350.5L2286.1 362.7L2283.8 367.9L2289.9 366.4L2299.8 363.2L2298.7 360.6L2309.0 356.4L2315.5 352.1L2328.1 352.1L2330.7 349.9L2336.9 338.8L2342.2 340.5L2342.2 348.3L2345.3 352.6M687.4 169.6L687.4 254.5L695.0 256.8L700.8 262.8L708.4 258.3L716.0 268.0L725.6 282.2L729.4 286.3L729.4 292.4M2062.6 169.6L2062.6 254.5L2070.2 256.8L2075.9 262.8L2083.6 258.3L2091.2 268.0L2100.8 282.2L2104.6 286.3L2104.6 292.4M778.7 413.6L787.8 412.7L802.0 419.0L812.7 419.0L812.7 416.8L819.2 416.8L826.8 426.5L832.2 429.2L834.8 425.7L838.7 425.7L845.9 435.7L854.7 442.5M873.8 489.0L873.8 486.2L875.7 482.7L880.7 482.7L880.7 475.9L885.3 475.9L888.7 473.1M885.3 475.9L885.3 483.5L889.1 484.3M884.5 489.4L890.6 493.3M908.2 487.0L898.6 491.8L892.5 495.3M906.3 503.1L898.6 502.3M910.5 508.2L909.3 514.0M930.3 511.6L928.4 517.4M950.2 502.3L949.0 510.5L949.4 516.7L958.2 518.2L968.2 521.3L968.9 531.6L967.0 537.4L970.8 540.4M996.8 512.4L994.1 525.1L996.4 527.8M1007.5 522.4L1004.4 539.3M1019.7 523.2L1017.8 536.2M994.1 525.1L981.5 529.7L970.8 540.4L960.5 538.5L959.0 561.1L947.1 573.0L949.0 581.5L956.3 582.6L960.5 586.9L976.6 582.6L983.4 591.2L994.9 598.2L996.8 608.1L1003.7 608.1L1006.3 615.7L1012.1 632.4L1014.4 639.5L1017.4 646.2L1021.2 648.8L1006.0 666.1L1012.5 669.2L1021.6 681.9M996.4 527.8L1004.4 539.3L1010.2 537.4L1017.8 536.2L1028.9 528.9M925.0 539.7L938.4 545.4L927.3 562.2L919.3 558.0M938.4 545.4L959.0 561.1M960.5 586.9L963.6 593.1L960.9 605.3L960.5 612.9L957.1 616.1M960.5 612.9L964.3 621.0L965.5 629.1L969.7 634.5L977.7 631.6L986.9 632.0L990.3 621.4L1003.7 622.2L1006.3 615.7M969.7 634.5L964.3 641.6L964.3 652.2L959.7 665.2L958.2 678.7L956.3 692.6L954.0 709.5L951.7 722.1L952.9 743.4L946.4 763.3L951.0 777.1L963.9 782.1M986.9 632.0L998.7 640.7L1005.6 646.2L1017.4 646.2M1006.0 666.1L1003.7 676.4L1002.9 682.8M1219.1 401.6L1221.4 413.6L1212.2 417.7L1206.9 424.8L1192.8 430.5L1192.8 434.8L1176.3 434.8M1192.8 436.5L1207.7 446.3L1230.6 462.9L1242.0 470.2L1248.9 469.0L1260.4 456.8L1271.8 452.6M1192.8 436.5L1192.8 442.5L1180.2 442.1L1180.2 452.6L1176.3 461.7L1161.1 461.7M1180.2 452.6L1201.2 446.3L1206.9 446.7L1205.0 481.1L1182.1 485.1L1179.4 488.2L1163.0 482.3M1258.5 392.7L1257.7 404.4L1262.3 415.9L1262.3 423.9L1264.2 445.1L1271.8 452.6M1269.9 410.9L1262.3 423.9M1321.5 417.2L1321.5 467.0M1271.8 452.6L1283.3 454.7L1317.7 469.0L1321.5 467.0M1321.5 458.8L1366.6 458.8M1242.0 470.2L1242.0 481.1L1227.9 487.4L1218.4 487.0L1205.0 504.7M1239.8 500.0L1252.7 494.9L1264.2 493.7L1278.0 492.2M1285.2 454.7L1286.7 465.8L1278.0 492.2M1317.7 469.0L1310.0 494.9L1315.8 510.5M1285.2 516.3L1296.7 510.9L1310.0 503.5M1278.0 492.2L1273.8 508.5L1259.2 527.8M1315.8 510.5L1329.1 508.5L1340.6 506.6L1355.9 508.5M-2.1 475.1L-9.8 489.8L-15.5 504.7L-19.3 508.5M1373.1 475.1L1365.4 489.8L1359.7 504.7L1355.9 508.5M15.1 502.7L18.9 510.5L34.2 514.3L22.7 525.9L10.9 529.7M1390.3 502.7L1394.1 510.5L1409.4 514.3L1397.9 525.9L1386.1 529.7M-12.4 525.1L-0.2 531.6L10.9 529.7M1362.8 525.1L1375.0 531.6L1386.1 529.7M7.4 551.5L7.4 534.3L10.9 529.7M1382.6 551.5L1382.6 534.3L1386.1 529.7M-19.7 548.8L-6.0 558.4L0.5 563.0M1355.5 548.8L1369.2 558.4L1375.7 563.0M1355.9 528.9L1359.7 541.2L1355.5 548.8M1273.8 566.0L1292.8 556.5L1296.7 535.4L1310.0 528.9L1331.0 525.9L1343.7 531.6L1339.1 550.3L1337.9 562.2L1342.5 575.7L1334.9 577.6L1333.0 591.2L1317.7 587.3L1310.0 587.3L1309.3 573.0L1292.8 575.7L1275.7 567.6M-19.3 589.2L5.1 585.3M1355.9 589.2L1380.3 585.3M1321.5 614.1L1342.1 605.3M1271.1 612.1L1305.8 614.9L1321.5 614.1M1289.0 659.1L1302.4 658.2L1302.4 642.8L1302.4 631.2L1306.2 616.1M1302.4 642.8L1323.4 647.1L1338.7 631.6M1322.6 614.1L1338.7 631.6M1351.7 651.3L1347.5 639.5L1345.6 632.8L1351.3 618.9L1352.1 607.7L1342.1 605.3M1193.5 527.8L1195.4 506.6M1214.5 525.9L1215.3 507.4L1224.1 502.7M1230.6 521.7L1227.9 502.7M1236.3 520.9L1239.8 500.0M1175.2 510.5L1184.0 496.9L1179.4 488.2M1329.1 508.5L1333.0 527.8M1340.6 577.6L1352.1 581.5L1355.9 589.2M1310.0 587.3L1310.0 595.1L1317.7 595.1L1315.8 612.9M1197.7 391.7L1197.3 379.5L1199.6 368.4L1192.0 367.9M1219.1 360.6L1228.7 363.8L1238.2 365.8M1235.5 317.2L1242.0 323.8L1249.3 326.7L1257.3 329.7L1254.7 337.7L1252.0 344.4L1252.7 347.2L1251.2 351.6L1254.7 358.5M1252.7 302.2L1248.9 312.9L1249.3 322.0L1249.3 326.7M1258.9 293.0L1264.2 293.7M1280.2 299.6L1281.8 307.9L1283.3 317.8M1283.3 317.8L1272.2 322.0L1278.7 330.8L1275.7 338.3L1262.3 338.3L1254.7 337.7M1283.3 317.8L1297.8 324.4L1312.0 329.1M1312.0 329.1L1317.7 319.0L1315.8 307.3L1315.8 299.0L1313.1 296.3L1300.5 296.3M1306.2 284.9L1327.6 287.7M1318.8 272.3L1331.0 275.2M1333.0 260.5L1331.0 275.2M1327.6 287.7L1333.7 284.9L1347.5 311.0L1316.2 314.7M-27.7 311.0L-17.8 316.0L-4.0 324.4L3.6 326.2L-3.3 340.5M1347.5 311.0L1357.4 316.0L1371.2 324.4L1378.8 326.2L1371.9 340.5M1339.5 350.5L1333.7 349.4L1327.6 333.7L1313.5 335.4L1312.0 329.1M1312.7 356.4L1335.3 359.0M1312.7 356.4L1307.0 345.0L1313.5 335.4M1299.7 363.2L1305.5 373.5M1304.3 373.0L1325.3 369.4L1333.0 368.4M1252.7 347.2L1266.1 342.2L1278.3 343.9M1278.3 343.9L1289.0 341.7L1290.9 335.4L1283.3 330.3M1287.1 360.1L1298.6 352.1L1302.4 365.3M1290.9 335.4L1310.0 332.6M1271.8 265.0L1273.8 249.0L1272.6 228.5L1281.4 209.8L1290.9 186.5L1304.3 176.1M1317.7 207.9L1316.2 191.5L1304.3 176.1M1304.3 176.1L1321.5 180.3L1336.4 166.3M1336.4 166.3L1336.8 186.5L1340.6 201.3L1338.7 224.2L1346.3 234.4L1332.2 252.9M9.3 370.5L17.0 372.5L21.9 379.5L20.4 392.2L12.4 391.7L-9.4 393.6L-11.7 397.9M1384.5 370.5L1392.2 372.5L1397.1 379.5L1395.6 392.2L1387.6 391.7L1365.8 393.6L1363.5 397.9M3.2 360.6L15.1 364.3L28.4 368.4L36.5 368.9M1378.4 360.6L1390.3 364.3L1403.6 368.4L1411.7 368.9M21.9 379.5L34.2 385.9L37.6 385.9M1397.1 379.5L1409.4 385.9L1412.8 385.9M12.4 391.7L8.2 404.9L-0.2 414.1L-7.9 418.1L-11.3 427.9M1387.6 391.7L1383.4 404.9L1375.0 414.1L1367.3 418.1L1363.9 427.9M-0.2 414.1L21.6 428.3L32.6 427.0M1375.0 414.1L1396.8 428.3L1407.8 427.0M20.4 392.2L24.6 402.1L33.4 415.9L35.3 423.9M1395.6 392.2L1399.8 402.1L1408.6 415.9L1410.5 423.9M15.8 480.7L30.3 479.1L49.4 471.1L63.2 458.8L60.9 450.5L47.9 449.3M1391.0 480.7L1405.5 479.1L1424.6 471.1L1438.4 458.8L1436.1 450.5L1423.1 449.3M50.2 480.7L53.6 480.7L49.4 471.1M1425.4 480.7L1428.8 480.7L1424.6 471.1M86.1 445.5L90.7 432.6L83.4 425.2L84.6 418.6L81.9 408.6L84.6 399.3L77.3 390.3L57.1 390.8M1461.3 445.5L1465.9 432.6L1458.6 425.2L1459.8 418.6L1457.1 408.6L1459.8 399.3L1452.5 390.3L1432.3 390.8M83.4 425.2L102.9 426.5L104.8 420.3L115.5 416.3L118.2 407.7L123.2 396.0L135.4 392.7M1458.6 425.2L1478.1 426.5L1480.0 420.3L1490.7 416.3L1493.4 407.7L1498.4 396.0L1510.6 392.7M84.6 399.3L97.2 396.0L106.7 391.2L118.2 390.3L135.4 392.7M1459.8 399.3L1472.4 396.0L1481.9 391.2L1493.4 390.3L1510.6 392.7M111.3 451.8L120.1 446.3L122.0 435.7L133.5 424.8L135.4 413.6L137.3 402.1L148.0 399.8M1486.5 451.8L1495.3 446.3L1497.2 435.7L1508.7 424.8L1510.6 413.6L1512.5 402.1L1523.2 399.8M148.0 399.8L154.5 412.7L160.6 423.9L171.7 430.9L187.7 433.9L193.8 432.6L202.2 435.7L215.6 429.2L222.5 432.6M1523.2 399.8L1529.7 412.7L1535.8 423.9L1546.9 430.9L1562.9 433.9L1569.0 432.6L1577.4 435.7L1590.8 429.2L1597.7 432.6M156.4 430.0L171.7 436.5L187.3 440.4M1531.6 430.0L1546.9 436.5L1562.5 440.4M189.6 460.5L190.8 446.3L202.2 446.3L204.1 458.8L211.8 450.5L222.5 432.6M1564.8 460.5L1566.0 446.3L1577.4 446.3L1579.3 458.8L1587.0 450.5L1597.7 432.6M222.5 432.6L227.1 450.5L237.0 460.9L232.8 465.4L227.1 479.9L227.1 504.7M1597.7 432.6L1602.3 450.5L1612.2 460.9L1608.0 465.4L1602.3 479.9L1602.3 504.7M232.8 465.4L240.4 475.1L253.8 483.1L244.3 489.8L241.6 498.0M1608.0 465.4L1615.6 475.1L1629.0 483.1L1619.5 489.8L1616.8 498.0M240.4 456.8L250.0 467.0L261.5 487.0L257.6 502.7L255.0 505.4M1615.6 456.8L1625.2 467.0L1636.7 487.0L1632.8 502.7L1630.2 505.4M263.4 460.5L248.1 455.5L239.3 462.1M1638.6 460.5L1623.3 455.5L1614.5 462.1M186.2 329.1L198.4 349.4L219.4 363.8L248.1 368.4L274.8 361.1L288.2 350.5L308.8 342.8L296.2 324.4M1561.4 329.1L1573.6 349.4L1594.6 363.8L1623.3 368.4L1650.0 361.1L1663.4 350.5L1684.0 342.8L1671.4 324.4M186.2 329.1L202.2 320.8L225.2 311.6L240.4 314.7L263.4 326.7L296.2 324.4M1561.4 329.1L1577.4 320.8L1600.4 311.6L1615.6 314.7L1638.6 326.7L1671.4 324.4M296.2 324.4L309.2 307.9L328.3 304.1L337.9 325.0L351.2 337.1L365.4 333.7L358.9 352.1L351.2 363.8L349.7 365.8M1671.4 324.4L1684.4 307.9L1703.5 304.1L1713.1 325.0L1726.4 337.1L1740.6 333.7L1734.1 352.1L1726.4 363.8L1724.9 365.8M325.2 378.0L334.0 370.5L343.6 367.9L349.7 365.8M1700.4 378.0L1709.2 370.5L1718.8 367.9L1724.9 365.8M334.0 388.8L341.3 384.9M1709.2 388.8L1716.5 384.9M32.2 347.7L38.0 332.6L28.4 329.7L34.2 320.8L45.6 315.3L60.9 320.2L83.8 317.8L85.7 299.0L110.6 290.4L131.6 299.0L143.0 297.6L152.6 309.8L169.8 318.4L184.3 328.5M1407.5 347.7L1413.2 332.6L1403.6 329.7L1409.4 320.8L1420.8 315.3L1436.1 320.2L1459.0 317.8L1460.9 299.0L1485.8 290.4L1506.8 299.0L1518.2 297.6L1527.8 309.8L1545.0 318.4L1559.5 328.5M184.3 328.5L177.4 340.0L165.2 349.4L157.2 366.9L137.3 375.5L131.6 381.0L135.4 392.7M1559.5 328.5L1552.6 340.0L1540.4 349.4L1532.4 366.9L1512.5 375.5L1506.8 381.0L1510.6 392.7M157.2 366.9L135.4 362.7L121.3 366.9L102.9 363.2L64.7 371.5L64.7 352.1L53.3 367.4M1532.4 366.9L1510.6 362.7L1496.5 366.9L1478.1 363.2L1439.9 371.5L1439.9 352.1L1428.5 367.4M53.3 367.4L68.5 372.0L85.7 380.5L97.2 385.4L109.8 391.7M1428.5 367.4L1443.7 372.0L1460.9 380.5L1472.4 385.4L1485.0 391.7M108.6 380.5L131.6 381.0M1483.8 380.5L1506.8 381.0M121.3 366.9L122.0 376.5L108.6 380.5M1496.5 366.9L1497.2 376.5L1483.8 380.5M389.4 554.9L389.4 579.9M1764.6 554.9L1764.6 579.9M269.5 537.7L282.5 539.3L290.1 533.5L300.8 528.9M1644.7 537.7L1657.7 539.3L1665.3 533.5L1676.0 528.9"/>
<path fill="none" stroke="#f8f9fa" stroke-width="2" stroke-linecap="round" stroke-dasharray="0.1 3.4" d="M343.6 603.0L343.6 672.8M1718.8 603.0L1718.8 672.8M378.0 608.9L378.0 647.9L389.4 647.9L389.4 702.1M1753.2 608.9L1753.2 647.9L1764.6 647.9L1764.6 702.1M343.6 647.9L378.0 647.9M1718.8 647.9L1753.2 647.9M389.4 660.8L423.8 660.8L437.2 657.4M1764.6 660.8L1799.0 660.8L1812.4 657.4M389.4 683.3L400.9 692.6L423.8 699.7M1764.6 683.3L1776.1 692.6L1799.0 699.7M828.5 329.7L828.5 373.0L836.4 373.0L836.4 392.7M832.5 392.7L832.5 415.9M802.0 329.7L802.0 373.0L790.5 373.0L790.5 397.4M779.1 329.7L779.1 346.6L781.0 357.4L779.1 367.9L767.6 367.9L751.6 367.9M2154.3 329.7L2154.3 346.6L2156.2 357.4L2154.3 367.9L2142.8 367.9L2126.8 367.9M767.6 367.9L767.6 383.0L788.2 402.1M790.5 367.9L802.0 367.9M802.0 352.1L828.7 352.1M828.7 362.7L857.4 362.7M828.7 346.6L857.4 346.6M857.4 329.7L857.4 365.3L860.0 378.0L864.6 392.7L865.0 408.6M836.4 378.0L862.0 378.0M790.5 392.7L864.6 392.7M832.5 395.1L844.0 395.1L844.0 404.4L865.0 408.6M809.6 373.0L809.6 419.0M878.4 341.1L877.6 360.1L880.3 370.5L876.5 378.0L884.1 392.7L882.2 402.1L876.5 420.3M891.8 369.4L891.8 388.3M902.1 369.4L902.1 383.0M918.5 367.9L918.5 379.5L936.4 379.5M889.8 423.4L889.1 402.1L882.2 402.1M901.3 420.3L899.4 402.1M916.6 402.1L882.2 402.1M910.8 422.6L901.3 420.3L891.8 420.3M939.5 370.5L944.8 373.0L945.6 352.1M865.0 408.6L866.9 426.1M865.0 395.1L883.3 395.1M903.2 382.5L918.5 385.4L937.6 390.3M907.0 394.6L936.4 394.6M951.7 352.1L952.9 367.9M687.4 256.8L836.4 256.8L863.9 264.3M2062.6 256.8L2211.6 256.8L2239.1 264.3M767.6 256.8L767.6 300.2L788.6 329.7M805.8 256.8L805.8 329.7M836.4 256.8L838.3 329.7M862.3 329.7L862.3 306.6L886.0 280.1M922.3 314.7L922.3 341.1L941.4 350.5M1008.3 314.7L981.5 311.6L970.1 292.4L979.6 254.5M836.4 256.8L836.4 222.4L805.0 210.7L764.9 186.5L764.9 170.7M752.3 256.8L740.9 241.0L725.6 224.2L710.3 206.1L704.6 177.1M2127.5 256.8L2116.1 241.0L2100.8 224.2L2085.5 206.1L2079.8 177.1M1035.0 548.8L1019.7 562.2L1006.3 573.0L991.1 581.5M1050.3 552.6L1040.7 568.0L1033.1 595.1L1025.5 614.9L1021.6 633.2M1065.6 556.5L1054.1 581.5L1046.5 604.9L1033.1 595.1M1006.3 573.0L1004.4 595.1L994.9 598.2M1046.5 604.9L1069.4 627.1M1054.1 581.5L1078.9 595.1M1040.7 647.9L1021.2 648.8M1086.6 566.0L1071.3 573.7L1054.1 581.5M-34.6 292.4L-11.7 271.6L18.9 278.7L41.8 256.8L80.0 264.3L110.6 241.0L164.0 256.8L194.6 285.6L232.8 271.6L271.0 249.0L316.8 232.7L366.5 241.0L423.8 241.0M1340.6 292.4L1363.5 271.6L1394.1 278.7L1417.0 256.8L1455.2 264.3L1485.8 241.0L1539.2 256.8L1569.8 285.6L1608.0 271.6L1646.2 249.0L1692.0 232.7L1741.7 241.0L1799.0 241.0M80.0 264.3L102.9 181.3M1455.2 264.3L1478.1 181.3M164.0 256.8L179.3 122.3M1539.2 256.8L1554.5 122.3M232.8 271.6L248.1 165.2L278.6 125.0M1608.0 271.6L1623.3 165.2L1653.8 125.0M316.8 232.7L347.4 156.1M1692.0 232.7L1722.6 156.1M366.5 241.0L389.4 268.0M1741.7 241.0L1764.6 268.0M423.8 241.0L462.0 169.6M1799.0 241.0L1837.2 169.6M18.9 278.7L19.6 200.4M1394.1 278.7L1394.8 200.4M-11.7 271.6L3.6 218.9M1363.5 271.6L1378.8 218.9M194.6 285.6L190.8 320.8M1569.8 285.6L1566.0 320.8M271.0 249.0L263.4 323.8M1646.2 249.0L1638.6 323.8M156.4 399.8L190.8 397.4L221.3 402.1L251.9 411.3L278.6 424.8L309.2 420.3M1531.6 399.8L1566.0 397.4L1596.5 402.1L1627.1 411.3L1653.8 424.8L1684.4 420.3M221.3 402.1L225.2 365.3M1596.5 402.1L1600.4 365.3M251.9 411.3L263.4 448.4M1627.1 411.3L1638.6 448.4M278.6 424.8L286.3 454.7M1653.8 424.8L1661.5 454.7M251.9 411.3L274.8 378.0L301.6 367.9L320.7 352.1M1627.1 411.3L1650.0 378.0L1676.8 367.9L1695.9 352.1M135.4 413.6L148.8 437.8L164.0 450.5L179.3 458.8M1510.6 413.6L1524.0 437.8L1539.2 450.5L1554.5 458.8M129.7 471.1L148.8 458.8L171.7 448.4M1504.9 471.1L1524.0 458.8L1546.9 448.4M135.4 491.0L156.4 479.1M1510.6 491.0L1531.6 479.1M141.1 502.7L156.4 494.9M1516.3 502.7L1531.6 494.9M60.9 320.2L80.0 352.1M1436.1 320.2L1455.2 352.1M110.6 290.4L118.2 341.1L135.4 362.7M1485.8 290.4L1493.4 341.1L1510.6 362.7M-27.0 309.8L-13.6 302.2L-4.0 308.5L7.4 305.4L22.7 311.6L38.0 302.2L53.3 305.4L64.7 289.0M1348.2 309.8L1361.6 302.2L1371.2 308.5L1382.6 305.4L1397.9 311.6L1413.2 302.2L1428.5 305.4L1439.9 289.0M-30.8 289.0L-15.5 282.2L-0.2 292.4L15.1 289.0L30.3 292.4L41.8 282.2L60.9 275.2L76.2 278.7M1344.4 289.0L1359.7 282.2L1375.0 292.4L1390.3 289.0L1405.5 292.4L1417.0 282.2L1436.1 275.2L1451.4 278.7M-23.1 271.6L-4.0 260.5L11.2 268.0L26.5 264.3L49.4 260.5L68.5 245.0M1352.1 271.6L1371.2 260.5L1386.4 268.0L1401.7 264.3L1424.6 260.5L1443.7 245.0M-34.6 249.0L-19.3 236.9L-4.0 241.0L11.2 245.0L26.5 241.0L45.6 232.7L64.7 224.2L80.0 224.2M1340.6 249.0L1355.9 236.9L1371.2 241.0L1386.4 245.0L1401.7 241.0L1420.8 232.7L1439.9 224.2L1455.2 224.2M-9.8 323.8L-0.2 314.7L11.2 320.8L20.8 326.7L28.4 335.4M1365.4 323.8L1375.0 314.7L1386.4 320.8L1396.0 326.7L1403.6 335.4M-2.1 341.1L7.4 332.6L18.9 338.3L28.4 346.6M1373.1 341.1L1382.6 332.6L1394.1 338.3L1403.6 346.6M1363.5 295.7L1365.4 275.2L1359.7 252.9L1363.5 224.2M3.6 323.8L5.5 299.0L3.6 271.6L7.4 232.7M1378.8 323.8L1380.7 299.0L1378.8 271.6L1382.6 232.7M22.7 343.9L24.6 317.8L20.8 292.4L24.6 256.8L30.3 224.2M1397.9 343.9L1399.8 317.8L1396.0 292.4L1399.8 256.8L1405.5 224.2M41.8 314.7L39.9 292.4L43.7 264.3L41.8 224.2L53.3 191.5M1417.0 314.7L1415.1 292.4L1418.9 264.3L1417.0 224.2L1428.5 191.5M60.9 317.8L59.0 292.4L62.8 264.3L74.3 241.0L76.2 206.1M1436.1 317.8L1434.2 292.4L1438.0 264.3L1449.5 241.0L1451.4 206.1M83.8 295.7L81.9 268.0L87.6 241.0M1459.0 295.7L1457.1 268.0L1462.8 241.0M95.3 292.4L99.1 264.3L118.2 256.8L137.3 252.9L148.8 241.0M1470.5 292.4L1474.3 264.3L1493.4 256.8L1512.5 252.9L1524.0 241.0M129.7 295.7L133.5 271.6M1504.9 295.7L1508.7 271.6M156.4 308.5L156.4 278.7L148.8 241.0M1531.6 308.5L1531.6 278.7L1524.0 241.0M179.3 311.6L187.0 292.4L179.3 271.6M1554.5 311.6L1562.2 292.4L1554.5 271.6M209.9 317.8L213.7 285.6L221.3 256.8M1585.1 317.8L1588.9 285.6L1596.5 256.8M251.9 311.6L248.1 292.4L232.8 271.6M1627.1 311.6L1623.3 292.4L1608.0 271.6M278.6 320.8L290.1 292.4L309.2 275.2L328.3 282.2M1653.8 320.8L1665.3 292.4L1684.4 275.2L1703.5 282.2M337.9 325.0L351.2 311.6L374.1 295.7M1713.1 325.0L1726.4 311.6L1749.3 295.7M221.3 402.1L240.4 392.7L255.7 387.9L274.8 378.0M1596.5 402.1L1615.6 392.7L1630.9 387.9L1650.0 378.0M244.3 431.3L255.7 424.8L271.0 420.3M1619.5 431.3L1630.9 424.8L1646.2 420.3M248.1 446.3L263.4 442.1L278.6 442.1L293.9 437.8M1623.3 446.3L1638.6 442.1L1653.8 442.1L1669.1 437.8M267.2 406.7L286.3 402.1L297.7 397.4M1642.4 406.7L1661.5 402.1L1672.9 397.4M278.6 397.4L282.5 378.0M1653.8 397.4L1657.7 378.0M232.8 446.3L236.6 433.5L229.0 415.9M1608.0 446.3L1611.8 433.5L1604.2 415.9M194.6 415.9L213.7 415.9M1569.8 415.9L1588.9 415.9M290.1 424.8L297.7 411.3L301.6 402.1M1665.3 424.8L1672.9 411.3L1676.8 402.1M87.6 352.1L102.9 341.1L118.2 323.8L141.1 320.8M1462.8 352.1L1478.1 341.1L1493.4 323.8L1516.3 320.8M72.4 332.6L99.1 314.7M1447.6 332.6L1474.3 314.7M125.8 357.4L156.4 352.1M1501.0 357.4L1531.6 352.1M752.3 345.0L779.1 346.6M2127.5 345.0L2154.3 346.6M802.0 392.7L802.0 419.0M836.4 392.7L832.5 395.1M876.5 395.1L864.6 395.1M878.4 360.1L857.4 360.1M884.1 365.3L893.7 365.3M902.1 382.5L889.8 390.3M918.5 402.1L924.2 395.1"/>
<g font-family="Liberation Sans" font-size="13" fill="#767a80" stroke="#767a80" stroke-width="0.25" text-anchor="middle"><text x="1071" y="133.5">Greenland</text><text x="1153" y="217.5">Iceland</text><text x="1326" y="193.5">Finland</text><text x="1290" y="222.5">Sweden</text><text x="1256" y="251.5">Norway</text><text x="1586" y="242.5">Russia</text><text x="1209" y="282.5">United</text><text x="1209" y="294.5">Kingdom</text><text x="1297" y="308.5">Poland</text><text x="1265" y="330.5">Germany</text><text x="1234" y="350.5">France</text><text x="1272" y="365.5">Italy</text><text x="1211" y="372.5">Spain</text><text x="1349" y="329.5">Ukraine</text><text x="1484" y="337.5">Kazakhstan</text><text x="1621" y="345.5">Mongolia</text><text x="824" y="297.5">Canada</text><text x="834" y="382.5">United States</text><text x="829" y="455.5">Mexico</text><text x="1361" y="386.5">Türkiye</text><text x="1765" y="385.5">Japan</text><text x="1623" y="394.5">China</text><text x="1713" y="399.5">South Korea</text><text x="1390" y="415.5">Iraq</text><text x="1433" y="421.5">Iran</text><text x="1486" y="409.5">Afghanistan</text><text x="1491" y="433.5">Pakistan</text><text x="1528" y="459.5">India</text><text x="1231" y="437.5">Algeria</text><text x="1292" y="441.5">Libya</text><text x="1340" y="436.5">Egypt</text><text x="1399" y="456.5">Saudi Arabia</text><text x="1614" y="471.5">Thailand</text><text x="1218" y="480.5">Mali</text><text x="1263" y="480.5">Niger</text><text x="1341" y="484.5">Sudan</text><text x="1300" y="496.5">Chad</text><text x="1256" y="513.5">Nigeria</text><text x="1377" y="517.5">Ethiopia</text><text x="969" y="518.5">Venezuela</text><text x="931" y="535.5">Colombia</text><text x="1371" y="548.5">Kenya</text><text x="1312" y="556.5">DRC</text><text x="1671" y="565.5">Indonesia</text><text x="1792" y="569.5">Papua New</text><text x="1792" y="581.5">Guinea</text><text x="1368" y="574.5">Tanzania</text><text x="1010" y="583.5">Brazil</text><text x="930" y="593.5">Peru</text><text x="1288" y="598.5">Angola</text><text x="975" y="615.5">Bolivia</text><text x="1286" y="626.5">Namibia</text><text x="1318" y="642.5">Botswana</text><text x="1409" y="634.5">Madagascar</text><text x="1741" y="649.5">Australia</text><text x="954" y="657.5">Chile</text><text x="1300" y="686.5">South Africa</text><text x="985" y="713.5">Argentina</text><text x="478" y="713.5">New</text><text x="6" y="415.5">aq</text><text x="44" y="421.5">Iran</text><text x="23" y="456.5">di Arabia</text><text x="6" y="517.5">ia</text><text x="3" y="575.5">a</text><text x="26" y="634.5">adagascar</text></g>
<g fill="#3670dc" fill-opacity="0.66"><circle cx="1216.6" cy="300.3" r="13.9"/><circle cx="1270.7" cy="334.1" r="18.3"/><circle cx="1236.9" cy="363.5" r="14.3"/><circle cx="1343.1" cy="319.7" r="28.2"/><circle cx="844.0" cy="472.0" r="14"/><circle cx="1483.8" cy="446.7" r="26.8"/><circle cx="1499.2" cy="456.6" r="23.4"/><circle cx="1522.6" cy="429.7" r="24.6"/><circle cx="1521.8" cy="437.5" r="24"/><circle cx="1556.3" cy="434.5" r="13.8"/><circle cx="1511.7" cy="471.5" r="22.8"/><circle cx="1536.0" cy="475.7" r="15"/><circle cx="1534.6" cy="489.5" r="17"/><circle cx="1524.5" cy="495.9" r="24.4"/><circle cx="1635.4" cy="503.5" r="16.3"/></g>
</svg>
<div class="r" style="left:2200px;top:698px;width:350px;height:20px;background:rgba(255,255,255,.55)"></div>
<div class="t" style="left:2211.0px;top:701.4px;font-size:13.5px;color:#202124;-webkit-text-stroke:0.1px currentColor">Keyboard shortcuts</div>
<div class="t" style="left:2345.0px;top:701.4px;font-size:13.5px;color:#202124;-webkit-text-stroke:0.1px currentColor">Map data ©2023</div>
<div class="t" style="left:2463.0px;top:701.4px;font-size:13.5px;color:#202124;-webkit-text-stroke:0.1px currentColor">Terms of Use</div>
<div class="r" style="left:2483px;top:576px;width:54px;height:109px;background:#fff;border-radius:2px;box-shadow:0 1px 4px rgba(0,0,0,.25)"></div>
<div class="r" style="left:2498.0px;top:599.5px;width:24.0px;height:5.0px;background:#666;"></div>
<div class="r" style="left:2507.5px;top:590.0px;width:5.0px;height:24.0px;background:#666;"></div>
<div class="r" style="left:2489.0px;top:630.0px;width:41.0px;height:1.0px;background:#e6e6e6;"></div>
<div class="r" style="left:2498.0px;top:655.5px;width:25.0px;height:5.0px;background:#c8c8c8;"></div>
<div class="r" style="left:2552px;top:0;width:8px;height:754px;background:#dadce0;border-radius:0 0 4px 4px"></div>
<div class="r" style="left:0.0px;top:0.0px;width:2560.0px;height:1.0px;background:#dadce0;"></div>
<div class="r" style="left:478.0px;top:67.5px;width:1627.0px;height:1.0px;background:#dadce0;"></div>
<div class="r" style="left:478px;top:28px;width:122px;height:32px;border-radius:16px;background:#e8f0fe"></div>
<div class="r" style="left:479px;top:30.5px;width:27px;height:27px;border-radius:50%;background:#3b74de"></div>
<div class="t" style="left:485.8px;top:34.6px;font-size:18.5px;color:#fff;">A</div>
<div class="t" style="left:517.5px;top:34.7px;font-size:16.6px;color:#202124;">All Users</div>
<div class="r" style="left:611px;top:28px;width:173px;height:30px;border-radius:16px;border:1px dashed #9aa0a6"></div>
<div class="t" style="left:628.0px;top:34.9px;font-size:16.4px;color:#202124;">Add comparison</div>
<div class="r" style="left:758.0px;top:43.0px;width:17.0px;height:2.0px;background:#3c4043;"></div>
<div class="r" style="left:765.5px;top:35.5px;width:2.0px;height:17.0px;background:#3c4043;"></div>
<div class="t" style="left:477.0px;top:95.6px;font-size:30px;color:#202124;-webkit-text-stroke:0.1px currentColor">Realtime overview</div>
<div class="r" style="left:729px;top:92px;width:79px;height:36px;border-radius:19px;border:1px solid #e3e4e6"></div>
<svg class="ic" style="left:739px;top:99px;width:24px;height:24px" viewBox="0 0 24 24"><circle cx="12" cy="12" r="10" fill="none" stroke="#188038" stroke-width="2.2"/><path fill="none" stroke="#188038" stroke-width="2.2" d="M7 12.3l3.4 3.4 6.6-6.6"/></svg>
<svg class="ic" style="left:781px;top:107px;width:12px;height:8px" viewBox="0 0 12 8"><path fill="#5f6368" d="M1 1h10l-5 6z"/></svg>
<div class="r" style="left:2105px;top:68px;width:445px;height:82px;background:#f8f9fa;border-bottom-left-radius:16px"></div>
<svg class="ic" style="left:2120px;top:94px;width:26px;height:26px" viewBox="0 0 26 26"><path fill="none" stroke="#3c4043" stroke-width="2.2" d="M1.5 6V1.5H6M20 1.5h4.5V6M24.5 20v4.5H20M6 24.5H1.5V20"/><circle cx="13" cy="9" r="2.8" fill="none" stroke="#3c4043" stroke-width="2"/><path fill="none" stroke="#3c4043" stroke-width="2" d="M6 19.5c0-3 3.5-4.5 7-4.5s7 1.5 7 4.5z"/></svg>
<div class="t" style="left:2163.0px;top:97.1px;font-size:20px;color:#3c4043;">View user snapshot</div>
<svg class="ic" style="left:2363px;top:97px;width:20px;height:20px" viewBox="0 0 20 20"><path fill="none" stroke="#3c4043" stroke-width="2.4" d="M1.5 6V1.5H6M14 1.5h4.5V6M18.5 14v4.5H14M6 18.5H1.5V14"/></svg>
<svg class="ic" style="left:2408px;top:93px;width:28px;height:28px" viewBox="0 0 28 28"><path fill="none" stroke="#3c4043" stroke-width="2.4" d="M14 3H2.5v22.5H25V14"/><path fill="#3c4043" d="M7 15h2.5v7H7zM11.5 18h2.5v4h-2.5zM16 16h2.5v6H16z"/><path fill="#3c4043" d="M23.5 1l3 3-9 9H14.5v-3z"/></svg>
<svg class="ic" style="left:2456px;top:93px;width:28px;height:28px" viewBox="0 0 28 28"><circle cx="21.5" cy="5.5" r="3.2" fill="none" stroke="#3c4043" stroke-width="2.2"/><circle cx="5.5" cy="14" r="3.2" fill="none" stroke="#3c4043" stroke-width="2.2"/><circle cx="21.5" cy="22.5" r="3.2" fill="none" stroke="#3c4043" stroke-width="2.2"/><path stroke="#3c4043" stroke-width="2.2" d="M8.3 12.5l10.4-5.5M8.3 15.5l10.4 5.5"/></svg>
<div class="card" style="left:477px;top:184px;width:412px;height:543px"></div>
<div class="t" style="left:509.0px;top:223.5px;font-size:16px;color:#5f6368;letter-spacing:0.2px;-webkit-text-stroke:0.55px currentColor">USERS IN LAST 30 MINUTES</div>
<div class="t" style="left:508.5px;top:251.1px;font-size:49px;color:#202124;letter-spacing:0.3px;-webkit-text-stroke:0">330</div>
<div class="t" style="left:509.0px;top:321.1px;font-size:16px;color:#5f6368;letter-spacing:0.2px;-webkit-text-stroke:0.55px currentColor">USERS PER MINUTE</div>
<svg class="ic" style="left:0;top:0;width:2560px;height:1224px" viewBox="0 0 2560 1224"><g fill="#3a72dc"><rect x="519.90" y="380.14" width="9.07" height="27.46"/><rect x="530.70" y="373.96" width="9.07" height="33.64"/><rect x="541.51" y="378.54" width="9.07" height="29.06"/><rect x="552.31" y="376.71" width="9.07" height="30.89"/><rect x="563.11" y="380.82" width="9.07" height="26.78"/><rect x="573.92" y="357.95" width="9.07" height="49.65"/><rect x="584.72" y="372.59" width="9.07" height="35.01"/><rect x="595.52" y="373.96" width="9.07" height="33.64"/><rect x="606.33" y="366.41" width="9.07" height="41.19"/><rect x="617.13" y="378.54" width="9.07" height="29.06"/><rect x="627.93" y="387.00" width="9.07" height="20.60"/><rect x="638.74" y="380.14" width="9.07" height="27.46"/><rect x="649.54" y="364.13" width="9.07" height="43.47"/><rect x="660.34" y="371.67" width="9.07" height="35.93"/><rect x="671.15" y="378.54" width="9.07" height="29.06"/><rect x="681.95" y="361.38" width="9.07" height="46.22"/><rect x="692.75" y="353.83" width="9.07" height="53.77"/><rect x="703.56" y="373.96" width="9.07" height="33.64"/><rect x="714.36" y="380.14" width="9.07" height="27.46"/><rect x="725.16" y="371.67" width="9.07" height="35.93"/><rect x="735.97" y="375.56" width="9.07" height="32.04"/><rect x="746.77" y="382.42" width="9.07" height="25.18"/><rect x="757.57" y="385.17" width="9.07" height="22.43"/><rect x="768.38" y="362.30" width="9.07" height="45.30"/><rect x="779.18" y="366.41" width="9.07" height="41.19"/><rect x="789.98" y="360.01" width="9.07" height="47.59"/><rect x="800.79" y="356.81" width="9.07" height="50.79"/><rect x="811.59" y="357.95" width="9.07" height="49.65"/><rect x="822.39" y="376.71" width="9.07" height="30.89"/><rect x="833.20" y="406.40" width="9.07" height="1.2"/></g></svg>
<div class="t" style="left:509.0px;top:429.5px;font-size:16px;color:#5f6368;letter-spacing:0.2px;-webkit-text-stroke:0.55px currentColor">DEVICE CATEGORY IN LAST 30 MINUTES</div>
<svg class="ic" style="left:0;top:0;width:2560px;height:1224px" viewBox="0 0 2560 1224"><circle cx="682.3" cy="546" r="58.2" fill="none" stroke="#3166d0" stroke-width="19.2" stroke-dasharray="328.38 365.68" stroke-dashoffset="-0.00" transform="rotate(-90 682.3 546)"/><circle cx="682.3" cy="546" r="58.2" fill="none" stroke="#4d83ea" stroke-width="19.2" stroke-dasharray="35.11 365.68" stroke-dashoffset="-328.38" transform="rotate(-90 682.3 546)"/><circle cx="682.3" cy="546" r="58.2" fill="none" stroke="#9bbcf6" stroke-width="19.2" stroke-dasharray="2.19 365.68" stroke-dashoffset="-363.49" transform="rotate(-90 682.3 546)"/></svg>
<div class="r" style="left:524px;top:645px;width:8px;height:8px;border-radius:50%;background:#3166d0"></div>
<div class="t" style="left:540.0px;top:640.8px;font-size:15px;color:#5f6368;letter-spacing:0.45px;-webkit-text-stroke:0.55px currentColor">DESKTOP</div>
<div class="t" style="left:540.0px;top:665.3px;font-size:28px;color:#202124;-webkit-text-stroke:0.1px currentColor">89.8%</div>
<div class="r" style="left:650px;top:645px;width:8px;height:8px;border-radius:50%;background:#4d83ea"></div>
<div class="t" style="left:665.4px;top:640.8px;font-size:15px;color:#5f6368;letter-spacing:0.45px;-webkit-text-stroke:0.55px currentColor">MOBILE</div>
<div class="t" style="left:666.0px;top:665.3px;font-size:28px;color:#202124;-webkit-text-stroke:0.1px currentColor">9.6%</div>
<div class="r" style="left:759px;top:645px;width:8px;height:8px;border-radius:50%;background:#9bbcf6"></div>
<div class="t" style="left:774.7px;top:640.8px;font-size:15px;color:#5f6368;letter-spacing:0.45px;-webkit-text-stroke:0.55px currentColor">TABLET</div>
<div class="t" style="left:775.0px;top:665.3px;font-size:28px;color:#202124;-webkit-text-stroke:0.1px currentColor">0.6%</div>
<div class="card" style="left:477px;top:748px;width:520px;height:520px"></div>
<div class="t" style="left:509.0px;top:837.4px;font-size:22px;color:#202124;">#1</div>
<div class="t" style="left:543.0px;top:837.4px;font-size:22px;color:#202124;letter-spacing:0.4px">(direct)</div>
<div class="t" style="left:543.0px;top:872.3px;font-size:28px;color:#202124;-webkit-text-stroke:0.1px currentColor">84</div>
<div class="t" style="left:543.0px;top:907.9px;font-size:15px;color:#5f6368;">70%</div>
<svg class="ic" style="left:0;top:0;width:2560px;height:1224px" viewBox="0 0 2560 1224"><g fill="#3a72dc"><rect x="707.30" y="901.46" width="6.76" height="23.37"/><rect x="715.34" y="898.91" width="6.76" height="25.92"/><rect x="723.39" y="901.46" width="6.76" height="23.37"/><rect x="731.43" y="906.77" width="6.76" height="18.06"/><rect x="739.47" y="906.77" width="6.76" height="18.06"/><rect x="747.52" y="898.91" width="6.76" height="25.92"/><rect x="755.56" y="898.91" width="6.76" height="25.92"/><rect x="763.60" y="911.02" width="6.76" height="13.81"/><rect x="771.65" y="898.91" width="6.76" height="25.92"/><rect x="779.69" y="898.91" width="6.76" height="25.92"/><rect x="787.73" y="906.77" width="6.76" height="18.06"/><rect x="795.78" y="911.02" width="6.76" height="13.81"/><rect x="803.82" y="896.58" width="6.76" height="28.26"/><rect x="811.86" y="901.46" width="6.76" height="23.37"/><rect x="819.91" y="898.91" width="6.76" height="25.92"/><rect x="827.95" y="882.98" width="6.76" height="41.85"/><rect x="835.99" y="878.09" width="6.76" height="46.74"/><rect x="844.04" y="896.58" width="6.76" height="28.26"/><rect x="852.08" y="901.46" width="6.76" height="23.37"/><rect x="860.12" y="896.58" width="6.76" height="28.26"/><rect x="868.17" y="898.91" width="6.76" height="25.92"/><rect x="876.21" y="906.77" width="6.76" height="18.06"/><rect x="884.25" y="911.02" width="6.76" height="13.81"/><rect x="892.30" y="908.47" width="6.76" height="16.36"/><rect x="900.34" y="898.91" width="6.76" height="25.92"/><rect x="908.38" y="901.46" width="6.76" height="23.37"/><rect x="916.43" y="895.09" width="6.76" height="29.74"/><rect x="924.47" y="904.01" width="6.76" height="20.82"/><rect x="932.51" y="901.46" width="6.76" height="23.37"/><rect x="940.56" y="923.63" width="6.76" height="1.2"/></g></svg>
<div class="t" style="left:509.0px;top:952.5px;font-size:15.5px;color:#5f6368;letter-spacing:0.75px;-webkit-text-stroke:0.55px currentColor">FIRST USER SOURCE</div>
<div class="t" style="right:1595.8px;top:952.5px;font-size:15.5px;color:#5f6368;letter-spacing:0.75px;-webkit-text-stroke:0.55px currentColor">USERS</div>
<div class="r" style="left:509.0px;top:983.0px;width:455.0px;height:1.0px;background:#dadce0;"></div>
<div class="t" style="left:509.0px;top:994.2px;font-size:17.5px;color:#3c4043;letter-spacing:0.15px">(direct)</div>
<div class="t" style="right:1596.0px;top:994.2px;font-size:17.5px;color:#3c4043;">84</div>
<div class="r" style="left:510.0px;top:1023.3px;width:455.0px;height:1.5px;background:#e3e4e6;"></div>
<div class="r" style="left:510px;top:1023.0px;width:319.6px;height:3px;border-radius:2px;background:#3a72e6"></div>
<div class="t" style="left:509.0px;top:1035.4px;font-size:17.5px;color:#3c4043;letter-spacing:0.15px">google</div>
<div class="t" style="right:1596.0px;top:1035.4px;font-size:17.5px;color:#3c4043;">20</div>
<div class="r" style="left:510.0px;top:1064.5px;width:455.0px;height:1.5px;background:#e3e4e6;"></div>
<div class="r" style="left:510px;top:1064.2px;width:75.6px;height:3px;border-radius:2px;background:#3a72e6"></div>
<div class="t" style="left:509.0px;top:1076.6px;font-size:17.5px;color:#3c4043;letter-spacing:0.15px">product_notifications</div>
<div class="t" style="right:1596.0px;top:1076.6px;font-size:17.5px;color:#3c4043;">7</div>
<div class="r" style="left:510.0px;top:1105.7px;width:455.0px;height:1.5px;background:#e3e4e6;"></div>
<div class="r" style="left:510px;top:1105.4px;width:26.7px;height:3px;border-radius:2px;background:#3a72e6"></div>
<div class="t" style="left:509.0px;top:1117.8px;font-size:17.5px;color:#3c4043;letter-spacing:0.15px">bing</div>
<div class="t" style="right:1596.0px;top:1117.8px;font-size:17.5px;color:#3c4043;">2</div>
<div class="r" style="left:510.0px;top:1146.9px;width:455.0px;height:1.5px;background:#e3e4e6;"></div>
<div class="r" style="left:510px;top:1146.6px;width:8.0px;height:3px;border-radius:2px;background:#3a72e6"></div>
<div class="t" style="left:509.0px;top:1159.0px;font-size:17.5px;color:#3c4043;letter-spacing:0.15px">softwaretestinghelp.com</div>
<div class="t" style="right:1596.0px;top:1159.0px;font-size:17.5px;color:#3c4043;">2</div>
<div class="r" style="left:510.0px;top:1188.1px;width:455.0px;height:1.5px;background:#e3e4e6;"></div>
<div class="r" style="left:510px;top:1187.8px;width:8.0px;height:3px;border-radius:2px;background:#3a72e6"></div>
<div class="t" style="left:509.0px;top:1200.2px;font-size:17.5px;color:#3c4043;letter-spacing:0.15px">account_notifications</div>
<div class="t" style="right:1596.0px;top:1200.2px;font-size:17.5px;color:#3c4043;">1</div>
<div class="card" style="left:1018px;top:748px;width:521px;height:520px"></div>
<div class="t" style="left:1050.0px;top:837.4px;font-size:22px;color:#202124;">#1</div>
<div class="t" style="left:1084.0px;top:837.4px;font-size:22px;color:#202124;letter-spacing:0.4px">All Users</div>
<div class="t" style="left:1084.0px;top:872.3px;font-size:28px;color:#202124;-webkit-text-stroke:0.1px currentColor">329</div>
<div class="t" style="left:1084.0px;top:907.9px;font-size:15px;color:#5f6368;">33.33%</div>
<svg class="ic" style="left:0;top:0;width:2560px;height:1224px" viewBox="0 0 2560 1224"><g fill="#3a72dc"><rect x="1248.60" y="900.82" width="6.78" height="24.01"/><rect x="1256.67" y="895.73" width="6.78" height="29.11"/><rect x="1264.75" y="898.91" width="6.78" height="25.92"/><rect x="1272.82" y="898.27" width="6.78" height="26.56"/><rect x="1280.89" y="901.46" width="6.78" height="23.37"/><rect x="1288.97" y="883.83" width="6.78" height="41.00"/><rect x="1297.04" y="894.88" width="6.78" height="29.96"/><rect x="1305.11" y="895.73" width="6.78" height="29.11"/><rect x="1313.19" y="889.78" width="6.78" height="35.05"/><rect x="1321.26" y="898.91" width="6.78" height="25.92"/><rect x="1329.33" y="906.77" width="6.78" height="18.06"/><rect x="1337.41" y="900.82" width="6.78" height="24.01"/><rect x="1345.48" y="887.02" width="6.78" height="37.82"/><rect x="1353.55" y="892.96" width="6.78" height="31.87"/><rect x="1361.63" y="898.91" width="6.78" height="25.92"/><rect x="1369.70" y="884.68" width="6.78" height="40.15"/><rect x="1377.77" y="878.73" width="6.78" height="46.10"/><rect x="1385.85" y="895.73" width="6.78" height="29.11"/><rect x="1393.92" y="900.82" width="6.78" height="24.01"/><rect x="1401.99" y="892.96" width="6.78" height="31.87"/><rect x="1410.07" y="898.27" width="6.78" height="26.56"/><rect x="1418.14" y="902.52" width="6.78" height="22.31"/><rect x="1426.21" y="905.07" width="6.78" height="19.76"/><rect x="1434.29" y="886.38" width="6.78" height="38.45"/><rect x="1442.36" y="889.78" width="6.78" height="35.05"/><rect x="1450.43" y="883.83" width="6.78" height="41.00"/><rect x="1458.51" y="881.28" width="6.78" height="43.55"/><rect x="1466.58" y="882.98" width="6.78" height="41.85"/><rect x="1474.65" y="900.82" width="6.78" height="24.01"/><rect x="1482.73" y="923.63" width="6.78" height="1.2"/></g></svg>
<div class="t" style="left:1050.0px;top:952.5px;font-size:15.5px;color:#5f6368;letter-spacing:0.75px;-webkit-text-stroke:0.55px currentColor">AUDIENCE</div>
<div class="t" style="right:1053.8px;top:952.5px;font-size:15.5px;color:#5f6368;letter-spacing:0.75px;-webkit-text-stroke:0.55px currentColor">USERS</div>
<div class="r" style="left:1050.0px;top:983.0px;width:456.0px;height:1.0px;background:#dadce0;"></div>
<div class="t" style="left:1050.0px;top:994.2px;font-size:17.5px;color:#3c4043;letter-spacing:0.15px">All Users</div>
<div class="t" style="right:1054.0px;top:994.2px;font-size:17.5px;color:#3c4043;">329</div>
<div class="r" style="left:1051.0px;top:1023.3px;width:456.0px;height:1.5px;background:#e3e4e6;"></div>
<div class="r" style="left:1051px;top:1023.0px;width:152.6px;height:3px;border-radius:2px;background:#3a72e6"></div>
<div class="t" style="left:1050.0px;top:1035.4px;font-size:17.5px;color:#3c4043;letter-spacing:0.15px">Unregistered users - GA4</div>
<div class="t" style="right:1054.0px;top:1035.4px;font-size:17.5px;color:#3c4043;">329</div>
<div class="r" style="left:1051.0px;top:1064.5px;width:456.0px;height:1.5px;background:#e3e4e6;"></div>
<div class="r" style="left:1051px;top:1064.2px;width:152.6px;height:3px;border-radius:2px;background:#3a72e6"></div>
<div class="t" style="left:1050.0px;top:1076.6px;font-size:17.5px;color:#3c4043;letter-spacing:0.15px">All visitors (system-defined) …</div>
<div class="t" style="right:1054.0px;top:1076.6px;font-size:17.5px;color:#3c4043;">329</div>
<div class="r" style="left:1051.0px;top:1105.7px;width:456.0px;height:1.5px;background:#e3e4e6;"></div>
<div class="r" style="left:1051px;top:1105.4px;width:152.6px;height:3px;border-radius:2px;background:#3a72e6"></div>
<div class="card" style="left:1560px;top:748px;width:412px;height:520px"></div>
<div class="t" style="left:1592.0px;top:837.4px;font-size:22px;color:#202124;">#1</div>
<div class="t" style="left:1626.0px;top:837.4px;font-size:22px;color:#202124;letter-spacing:0.4px">Issues</div>
<div class="t" style="left:1626.0px;top:872.3px;font-size:28px;color:#202124;-webkit-text-stroke:0.1px currentColor">671</div>
<div class="t" style="left:1626.0px;top:907.9px;font-size:15px;color:#5f6368;">25.18%</div>
<svg class="ic" style="left:0;top:0;width:2560px;height:1224px" viewBox="0 0 2560 1224"><g fill="#3a72dc"><rect x="1738.00" y="906.77" width="5.65" height="18.06"/><rect x="1744.73" y="898.91" width="5.65" height="25.92"/><rect x="1751.45" y="909.32" width="5.65" height="15.51"/><rect x="1758.18" y="915.91" width="5.65" height="8.92"/><rect x="1764.91" y="910.17" width="5.65" height="14.66"/><rect x="1771.63" y="911.02" width="5.65" height="13.81"/><rect x="1778.36" y="905.07" width="5.65" height="19.76"/><rect x="1785.09" y="905.07" width="5.65" height="19.76"/><rect x="1791.81" y="907.62" width="5.65" height="17.21"/><rect x="1798.54" y="908.47" width="5.65" height="16.36"/><rect x="1805.27" y="911.02" width="5.65" height="13.81"/><rect x="1811.99" y="908.47" width="5.65" height="16.36"/><rect x="1818.72" y="909.32" width="5.65" height="15.51"/><rect x="1825.45" y="890.63" width="5.65" height="34.20"/><rect x="1832.17" y="900.82" width="5.65" height="24.01"/><rect x="1838.90" y="884.68" width="5.65" height="40.15"/><rect x="1845.63" y="880.43" width="5.65" height="44.40"/><rect x="1852.35" y="908.47" width="5.65" height="16.36"/><rect x="1859.08" y="895.73" width="5.65" height="29.11"/><rect x="1865.81" y="899.97" width="5.65" height="24.86"/><rect x="1872.53" y="902.52" width="5.65" height="22.31"/><rect x="1879.26" y="918.46" width="5.65" height="6.37"/><rect x="1885.99" y="911.02" width="5.65" height="13.81"/><rect x="1892.71" y="898.27" width="5.65" height="26.56"/><rect x="1899.44" y="898.91" width="5.65" height="25.92"/><rect x="1906.17" y="908.47" width="5.65" height="16.36"/><rect x="1912.89" y="896.58" width="5.65" height="28.26"/><rect x="1919.62" y="910.17" width="5.65" height="14.66"/><rect x="1926.35" y="910.17" width="5.65" height="14.66"/><rect x="1933.07" y="923.63" width="5.65" height="1.2"/></g></svg>
<div class="t" style="left:1592.0px;top:952.5px;font-size:15.5px;color:#5f6368;letter-spacing:0.75px;-webkit-text-stroke:0.55px currentColor">PAGE TITLE AND S…</div>
<div class="t" style="right:620.8px;top:952.5px;font-size:15.5px;color:#5f6368;letter-spacing:0.75px;-webkit-text-stroke:0.55px currentColor">VIEWS</div>
<div class="r" style="left:1592.0px;top:983.0px;width:347.0px;height:1.0px;background:#dadce0;"></div>
<div class="t" style="left:1592.0px;top:994.2px;font-size:17.5px;color:#3c4043;letter-spacing:0.15px">Issues</div>
<div class="t" style="right:621.0px;top:994.2px;font-size:17.5px;color:#3c4043;">671</div>
<div class="r" style="left:1593.0px;top:1023.3px;width:347.0px;height:1.5px;background:#e3e4e6;"></div>
<div class="r" style="left:1593px;top:1023.0px;width:88.0px;height:3px;border-radius:2px;background:#3a72e6"></div>
<div class="t" style="left:1592.0px;top:1035.4px;font-size:17.5px;color:#3c4043;letter-spacing:0.15px">Rank Tracker</div>
<div class="t" style="right:621.0px;top:1035.4px;font-size:17.5px;color:#3c4043;">247</div>
<div class="r" style="left:1593.0px;top:1064.5px;width:347.0px;height:1.5px;background:#e3e4e6;"></div>
<div class="r" style="left:1593px;top:1064.2px;width:33.0px;height:3px;border-radius:2px;background:#3a72e6"></div>
<div class="t" style="left:1592.0px;top:1076.6px;font-size:17.5px;color:#3c4043;letter-spacing:0.15px">Projects</div>
<div class="t" style="right:621.0px;top:1076.6px;font-size:17.5px;color:#3c4043;">233</div>
<div class="r" style="left:1593.0px;top:1105.7px;width:347.0px;height:1.5px;background:#e3e4e6;"></div>
<div class="r" style="left:1593px;top:1105.4px;width:30.8px;height:3px;border-radius:2px;background:#3a72e6"></div>
<div class="t" style="left:1592.0px;top:1117.8px;font-size:17.5px;color:#3c4043;letter-spacing:0.15px">Site Audit</div>
<div class="t" style="right:621.0px;top:1117.8px;font-size:17.5px;color:#3c4043;">212</div>
<div class="r" style="left:1593.0px;top:1146.9px;width:347.0px;height:1.5px;background:#e3e4e6;"></div>
<div class="r" style="left:1593px;top:1146.6px;width:27.8px;height:3px;border-radius:2px;background:#3a72e6"></div>
<div class="t" style="left:1592.0px;top:1159.0px;font-size:17.5px;color:#3c4043;letter-spacing:0.15px">Create first project</div>
<div class="t" style="right:621.0px;top:1159.0px;font-size:17.5px;color:#3c4043;">161</div>
<div class="r" style="left:1593.0px;top:1188.1px;width:347.0px;height:1.5px;background:#e3e4e6;"></div>
<div class="r" style="left:1593px;top:1187.8px;width:21.2px;height:3px;border-radius:2px;background:#3a72e6"></div>
<div class="t" style="left:1592.0px;top:1200.2px;font-size:17.5px;color:#3c4043;letter-spacing:0.15px">SEO Monitoring Soft…</div>
<div class="t" style="right:621.0px;top:1200.2px;font-size:17.5px;color:#3c4043;">144</div>
<div class="card" style="left:1993px;top:748px;width:413px;height:520px"></div>
<div class="t" style="left:2025.0px;top:837.4px;font-size:22px;color:#202124;">#1</div>
<div class="t" style="left:2059.0px;top:837.4px;font-size:22px;color:#202124;letter-spacing:0.4px">page_view</div>
<div class="t" style="left:2059.0px;top:872.3px;font-size:28px;color:#202124;-webkit-text-stroke:0.1px currentColor">2,800</div>
<div class="t" style="left:2059.0px;top:907.9px;font-size:15px;color:#5f6368;">67.19%</div>
<svg class="ic" style="left:0;top:0;width:2560px;height:1224px" viewBox="0 0 2560 1224"><g fill="#3a72dc"><rect x="2171.30" y="899.97" width="5.65" height="24.86"/><rect x="2178.03" y="904.22" width="5.65" height="20.61"/><rect x="2184.75" y="909.32" width="5.65" height="15.51"/><rect x="2191.48" y="910.17" width="5.65" height="14.66"/><rect x="2198.21" y="910.17" width="5.65" height="14.66"/><rect x="2204.93" y="897.43" width="5.65" height="27.41"/><rect x="2211.66" y="903.37" width="5.65" height="21.46"/><rect x="2218.39" y="898.27" width="5.65" height="26.56"/><rect x="2225.11" y="904.22" width="5.65" height="20.61"/><rect x="2231.84" y="912.72" width="5.65" height="12.11"/><rect x="2238.57" y="912.72" width="5.65" height="12.11"/><rect x="2245.29" y="908.47" width="5.65" height="16.36"/><rect x="2252.02" y="905.07" width="5.65" height="19.76"/><rect x="2258.75" y="900.82" width="5.65" height="24.01"/><rect x="2265.47" y="909.32" width="5.65" height="15.51"/><rect x="2272.20" y="888.08" width="5.65" height="36.75"/><rect x="2278.93" y="894.88" width="5.65" height="29.96"/><rect x="2285.65" y="895.73" width="5.65" height="29.11"/><rect x="2292.38" y="903.37" width="5.65" height="21.46"/><rect x="2299.11" y="907.62" width="5.65" height="17.21"/><rect x="2305.83" y="906.77" width="5.65" height="18.06"/><rect x="2312.56" y="911.02" width="5.65" height="13.81"/><rect x="2319.29" y="909.32" width="5.65" height="15.51"/><rect x="2326.01" y="894.03" width="5.65" height="30.81"/><rect x="2332.74" y="900.82" width="5.65" height="24.01"/><rect x="2339.47" y="899.97" width="5.65" height="24.86"/><rect x="2346.19" y="895.73" width="5.65" height="29.11"/><rect x="2352.92" y="895.73" width="5.65" height="29.11"/><rect x="2359.65" y="908.47" width="5.65" height="16.36"/><rect x="2366.37" y="923.63" width="5.65" height="1.2"/></g></svg>
<div class="t" style="left:2025.0px;top:952.5px;font-size:15.5px;color:#5f6368;letter-spacing:0.75px;-webkit-text-stroke:0.55px currentColor">EVENT NAME</div>
<div class="t" style="right:186.8px;top:952.5px;font-size:15.5px;color:#5f6368;letter-spacing:0.75px;-webkit-text-stroke:0.55px currentColor">EVENT COUNT</div>
<div class="r" style="left:2025.0px;top:983.0px;width:348.0px;height:1.0px;background:#dadce0;"></div>
<div class="t" style="left:2025.0px;top:994.2px;font-size:17.5px;color:#3c4043;letter-spacing:0.15px">page_view</div>
<div class="t" style="right:187.0px;top:994.2px;font-size:17.5px;color:#3c4043;">2.8K</div>
<div class="r" style="left:2026.0px;top:1023.3px;width:348.0px;height:1.5px;background:#e3e4e6;"></div>
<div class="r" style="left:2026px;top:1023.0px;width:234.0px;height:3px;border-radius:2px;background:#3a72e6"></div>
<div class="t" style="left:2025.0px;top:1035.4px;font-size:17.5px;color:#3c4043;letter-spacing:0.15px">user_engagement</div>
<div class="t" style="right:187.0px;top:1035.4px;font-size:17.5px;color:#3c4043;">325</div>
<div class="r" style="left:2026.0px;top:1064.5px;width:348.0px;height:1.5px;background:#e3e4e6;"></div>
<div class="r" style="left:2026px;top:1064.2px;width:27.5px;height:3px;border-radius:2px;background:#3a72e6"></div>
<div class="t" style="left:2025.0px;top:1076.6px;font-size:17.5px;color:#3c4043;letter-spacing:0.15px">session_start</div>
<div class="t" style="right:187.0px;top:1076.6px;font-size:17.5px;color:#3c4043;">288</div>
<div class="r" style="left:2026.0px;top:1105.7px;width:348.0px;height:1.5px;background:#e3e4e6;"></div>
<div class="r" style="left:2026px;top:1105.4px;width:25.0px;height:3px;border-radius:2px;background:#3a72e6"></div>
<div class="t" style="left:2025.0px;top:1117.8px;font-size:17.5px;color:#3c4043;letter-spacing:0.15px">scroll</div>
<div class="t" style="right:187.0px;top:1117.8px;font-size:17.5px;color:#3c4043;">234</div>
<div class="r" style="left:2026.0px;top:1146.9px;width:348.0px;height:1.5px;background:#e3e4e6;"></div>
<div class="r" style="left:2026px;top:1146.6px;width:20.8px;height:3px;border-radius:2px;background:#3a72e6"></div>
<div class="t" style="left:2025.0px;top:1159.0px;font-size:17.5px;color:#3c4043;letter-spacing:0.15px">first_visit</div>
<div class="t" style="right:187.0px;top:1159.0px;font-size:17.5px;color:#3c4043;">210</div>
<div class="r" style="left:2026.0px;top:1188.1px;width:348.0px;height:1.5px;background:#e3e4e6;"></div>
<div class="r" style="left:2026px;top:1187.8px;width:18.3px;height:3px;border-radius:2px;background:#3a72e6"></div>
<div class="t" style="left:2025.0px;top:1200.2px;font-size:17.5px;color:#3c4043;letter-spacing:0.15px">click</div>
<div class="t" style="right:187.0px;top:1200.2px;font-size:17.5px;color:#3c4043;">132</div>
<div class="t" style="left:509.0px;top:783.6px;font-size:20px;color:#3c4043;">Users by First user source</div>
<svg class="ic" style="left:750px;top:789px;width:14px;height:9px" viewBox="0 0 14 9"><path fill="#5f6368" d="M1 1h12l-6 7z"/></svg>
<div class="r" style="left:509.0px;top:807.0px;width:51.0px;height:0;border-top:2px dashed #80868b;opacity:.8"></div>
<div class="r" style="left:1051.0px;top:807.0px;width:0.0px;height:0;border-top:2px dashed #80868b;opacity:.8"></div>
<div class="t" style="left:1051.0px;top:783.6px;font-size:20px;color:#3c4043;">Users</div>
<svg class="ic" style="left:1107px;top:789px;width:14px;height:9px" viewBox="0 0 14 9"><path fill="#5f6368" d="M1 1h12l-6 7z"/></svg>
<div class="t" style="left:1131.0px;top:783.6px;font-size:20px;color:#3c4043;">by Audience</div>
<div class="r" style="left:1158.0px;top:807.0px;width:85.0px;height:0;border-top:2px dashed #9aa0a6;opacity:.8"></div>
<div class="t" style="left:1592.5px;top:783.6px;font-size:20px;color:#3c4043;">Views by Page title and screen name</div>
<div class="r" style="left:1592.0px;top:807.0px;width:54.0px;height:0;border-top:2px dashed #80868b;opacity:.8"></div>
<div class="r" style="left:1677.0px;top:807.0px;width:247.0px;height:0;border-top:2px dashed #9aa0a6;opacity:.8"></div>
<div class="t" style="left:2026.0px;top:783.6px;font-size:20px;color:#3c4043;">Event count by Event name</div>
<div class="r" style="left:2026.0px;top:807.0px;width:108.0px;height:0;border-top:2px dashed #80868b;opacity:.8"></div>
<div class="r" style="left:2166.0px;top:807.0px;width:106.0px;height:0;border-top:2px dashed #9aa0a6;opacity:.8"></div>
<div class="r" style="left:509.0px;top:972.0px;width:174.0px;height:0;border-top:2px dashed #80868b;opacity:.8"></div>
<div class="r" style="left:907.0px;top:972.0px;width:56.0px;height:0;border-top:2px dashed #80868b;opacity:.8"></div>
<div class="r" style="left:1051.0px;top:972.0px;width:87.0px;height:0;border-top:2px dashed #80868b;opacity:.8"></div>
<div class="r" style="left:1450.0px;top:972.0px;width:56.0px;height:0;border-top:2px dashed #80868b;opacity:.8"></div>
<div class="r" style="left:1592.5px;top:972.0px;width:157.0px;height:0;border-top:2px dashed #80868b;opacity:.8"></div>
<div class="r" style="left:1884.0px;top:972.0px;width:56.0px;height:0;border-top:2px dashed #80868b;opacity:.8"></div>
<div class="r" style="left:2026.0px;top:972.0px;width:112.0px;height:0;border-top:2px dashed #80868b;opacity:.8"></div>
<div class="r" style="left:2251.0px;top:972.0px;width:122.0px;height:0;border-top:2px dashed #80868b;opacity:.8"></div>
<div class="r" style="left:2403px;top:1067px;width:76px;height:76px;border-radius:50%;background:#3b78de;box-shadow:0 3px 10px rgba(0,0,0,.22)"></div>
<svg class="ic" style="left:0;top:0;width:2560px;height:1224px" viewBox="0 0 2560 1224"><path fill="#3b78de" stroke="#fff" stroke-width="4" stroke-linejoin="round" d="M2434.24 1095.12L2437.76 1095.12L2438.46 1098.92L2440.82 1099.90L2444.01 1097.71L2446.49 1100.19L2444.30 1103.38L2445.28 1105.74L2449.08 1106.44L2449.08 1109.96L2445.28 1110.66L2444.30 1113.02L2446.49 1116.21L2444.01 1118.69L2440.82 1116.50L2438.46 1117.48L2437.76 1121.28L2434.24 1121.28L2433.54 1117.48L2431.18 1116.50L2427.99 1118.69L2425.51 1116.21L2427.70 1113.02L2426.72 1110.66L2422.92 1109.96L2422.92 1106.44L2426.72 1105.74L2427.70 1103.38L2425.51 1100.19L2427.99 1097.71L2431.18 1099.90L2433.54 1098.92Z"/><circle cx="2436.0" cy="1108.2" r="5.3" fill="#fff"/><path fill="#fff" d="M2453.5 1083.7Q2455.404 1088.596 2460.3 1090.5Q2455.404 1092.404 2453.5 1097.3Q2451.596 1092.404 2446.7 1090.5Q2451.596 1088.596 2453.5 1083.7Z M2458 1102.5Q2459.204 1105.596 2462.3 1106.8Q2459.204 1108.004 2458 1111.1Q2456.796 1108.004 2453.7 1106.8Q2456.796 1105.596 2458 1102.5Z"/></svg>

</body></html>
